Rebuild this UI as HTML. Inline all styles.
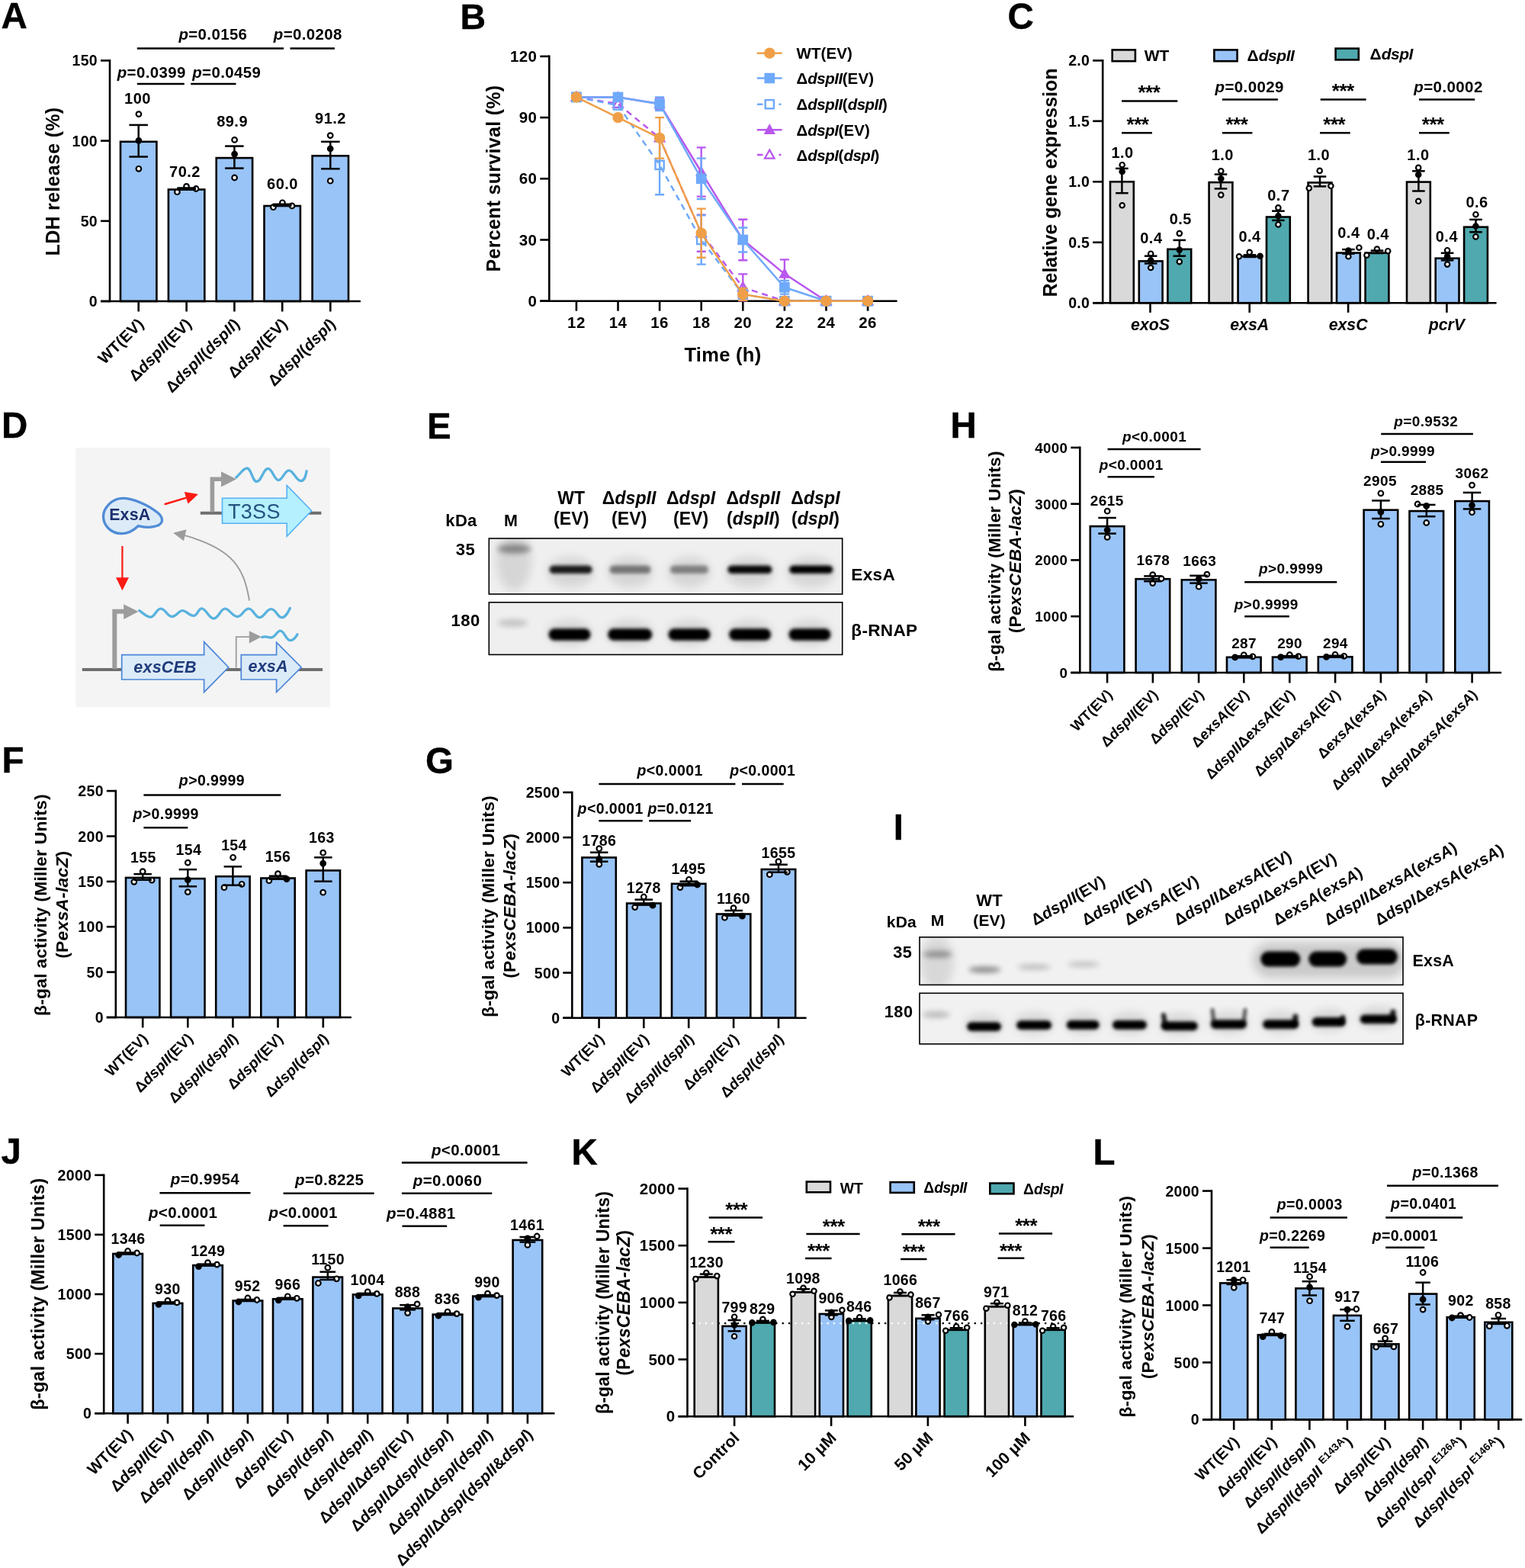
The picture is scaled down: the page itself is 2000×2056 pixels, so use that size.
<!DOCTYPE html>
<html lang="en"><head><meta charset="utf-8"><title>Figure</title>
<style>
html,body{margin:0;padding:0;background:#fff;}
body{width:2000px;height:2056px;overflow:hidden;}
svg{display:block;font-family:"Liberation Sans", Arial, Helvetica, sans-serif;}
#fig{width:2000px;height:2056px;}
svg text{font-family:"Liberation Sans", Arial, Helvetica, sans-serif;}
</style></head><body>
<div id="fig">
<svg width="2000" height="2056" viewBox="0 0 2000 2056">
<defs>
<filter id="cE1b1" filterUnits="userSpaceOnUse" x="621" y="686" width="503" height="113"><feGaussianBlur stdDeviation="1.2"/></filter>
<filter id="cE1b2" filterUnits="userSpaceOnUse" x="621" y="686" width="503" height="113"><feGaussianBlur stdDeviation="2.2"/></filter>
<filter id="cE1b3" filterUnits="userSpaceOnUse" x="621" y="686" width="503" height="113"><feGaussianBlur stdDeviation="3.5"/></filter>
<filter id="cE1b5" filterUnits="userSpaceOnUse" x="621" y="686" width="503" height="113"><feGaussianBlur stdDeviation="6"/></filter>
<clipPath id="cE1"><rect x="641.3" y="706.0" width="463.4" height="73.0"/></clipPath>
<filter id="cE2b1" filterUnits="userSpaceOnUse" x="621" y="770" width="503" height="109"><feGaussianBlur stdDeviation="1.2"/></filter>
<filter id="cE2b2" filterUnits="userSpaceOnUse" x="621" y="770" width="503" height="109"><feGaussianBlur stdDeviation="2.2"/></filter>
<filter id="cE2b3" filterUnits="userSpaceOnUse" x="621" y="770" width="503" height="109"><feGaussianBlur stdDeviation="3.5"/></filter>
<filter id="cE2b5" filterUnits="userSpaceOnUse" x="621" y="770" width="503" height="109"><feGaussianBlur stdDeviation="6"/></filter>
<clipPath id="cE2"><rect x="641.3" y="789.8" width="463.4" height="68.6"/></clipPath>
<filter id="cI1b1" filterUnits="userSpaceOnUse" x="1186" y="1209" width="674" height="103"><feGaussianBlur stdDeviation="1.2"/></filter>
<filter id="cI1b2" filterUnits="userSpaceOnUse" x="1186" y="1209" width="674" height="103"><feGaussianBlur stdDeviation="2.2"/></filter>
<filter id="cI1b3" filterUnits="userSpaceOnUse" x="1186" y="1209" width="674" height="103"><feGaussianBlur stdDeviation="3.5"/></filter>
<filter id="cI1b5" filterUnits="userSpaceOnUse" x="1186" y="1209" width="674" height="103"><feGaussianBlur stdDeviation="6"/></filter>
<clipPath id="cI1"><rect x="1206.0" y="1228.8" width="634.0" height="62.6"/></clipPath>
<filter id="cI2b1" filterUnits="userSpaceOnUse" x="1186" y="1282" width="674" height="107"><feGaussianBlur stdDeviation="1.2"/></filter>
<filter id="cI2b2" filterUnits="userSpaceOnUse" x="1186" y="1282" width="674" height="107"><feGaussianBlur stdDeviation="2.2"/></filter>
<filter id="cI2b3" filterUnits="userSpaceOnUse" x="1186" y="1282" width="674" height="107"><feGaussianBlur stdDeviation="3.5"/></filter>
<filter id="cI2b5" filterUnits="userSpaceOnUse" x="1186" y="1282" width="674" height="107"><feGaussianBlur stdDeviation="6"/></filter>
<clipPath id="cI2"><rect x="1206.0" y="1302.3" width="634.0" height="66.6"/></clipPath>
</defs>
<rect x="0" y="0" width="2000" height="2056" fill="#fff"/>
<text x="1.5" y="37.1" font-size="47.5" text-anchor="start" font-weight="bold" fill="#000" stroke="#000" stroke-width="0.4" stroke-linejoin="round">A</text>
<rect x="158.0" y="185.8" width="47.4" height="209.2" fill="#99c4f7" stroke="#000" stroke-width="2.6" />
<rect x="220.9" y="248.5" width="47.4" height="146.5" fill="#99c4f7" stroke="#000" stroke-width="2.6" />
<rect x="283.7" y="207.1" width="47.4" height="187.9" fill="#99c4f7" stroke="#000" stroke-width="2.6" />
<rect x="346.5" y="270.0" width="47.4" height="125.0" fill="#99c4f7" stroke="#000" stroke-width="2.6" />
<rect x="409.6" y="204.3" width="47.4" height="190.7" fill="#99c4f7" stroke="#000" stroke-width="2.6" />
<circle cx="181.9" cy="149.6" r="3.3" fill="#fff" stroke="#000" stroke-width="2.2"/>
<circle cx="181.9" cy="221.3" r="3.3" fill="#fff" stroke="#000" stroke-width="2.2"/>
<circle cx="232.4" cy="251.7" r="3.3" fill="#fff" stroke="#000" stroke-width="2.2"/>
<circle cx="244.5" cy="244.4" r="3.3" fill="#fff" stroke="#000" stroke-width="2.2"/>
<circle cx="257.1" cy="247.5" r="3.3" fill="#fff" stroke="#000" stroke-width="2.2"/>
<circle cx="307.6" cy="183.4" r="3.3" fill="#fff" stroke="#000" stroke-width="2.2"/>
<circle cx="307.6" cy="233.0" r="3.3" fill="#fff" stroke="#000" stroke-width="2.2"/>
<circle cx="358.4" cy="271.7" r="3.3" fill="#fff" stroke="#000" stroke-width="2.2"/>
<circle cx="370.4" cy="265.8" r="3.3" fill="#fff" stroke="#000" stroke-width="2.2"/>
<circle cx="383.0" cy="270.0" r="3.3" fill="#fff" stroke="#000" stroke-width="2.2"/>
<circle cx="433.2" cy="177.6" r="3.3" fill="#fff" stroke="#000" stroke-width="2.2"/>
<circle cx="433.2" cy="237.2" r="3.3" fill="#fff" stroke="#000" stroke-width="2.2"/>
<circle cx="181.9" cy="184.3" r="3.3" fill="#000" stroke="#000" stroke-width="2.2"/>
<circle cx="307.6" cy="202.1" r="3.3" fill="#000" stroke="#000" stroke-width="2.2"/>
<circle cx="433.2" cy="195.0" r="3.3" fill="#000" stroke="#000" stroke-width="2.2"/>
<path d="M181.7 163.9L181.7 205.5" stroke="#000" stroke-width="2.5" />
<path d="M169.4 163.9L193.9 163.9" stroke="#000" stroke-width="2.5" />
<path d="M169.4 205.5L193.9 205.5" stroke="#000" stroke-width="2.5" />
<path d="M244.6 246.5L244.6 248.5" stroke="#000" stroke-width="2.5" />
<path d="M232.3 246.5L256.9 246.5" stroke="#000" stroke-width="2.5" />
<path d="M232.3 248.5L256.9 248.5" stroke="#000" stroke-width="2.5" />
<path d="M307.4 191.6L307.4 220.6" stroke="#000" stroke-width="2.5" />
<path d="M295.1 191.6L319.6 191.6" stroke="#000" stroke-width="2.5" />
<path d="M295.1 220.6L319.6 220.6" stroke="#000" stroke-width="2.5" />
<path d="M370.2 267.8L370.2 269.8" stroke="#000" stroke-width="2.5" />
<path d="M357.9 267.8L382.4 267.8" stroke="#000" stroke-width="2.5" />
<path d="M357.9 269.8L382.4 269.8" stroke="#000" stroke-width="2.5" />
<path d="M433.3 185.8L433.3 221.3" stroke="#000" stroke-width="2.5" />
<path d="M421.1 185.8L445.6 185.8" stroke="#000" stroke-width="2.5" />
<path d="M421.1 221.3L445.6 221.3" stroke="#000" stroke-width="2.5" />
<path d="M144.0 78.1L144.0 396.3" stroke="#000" stroke-width="2.6" />
<path d="M132.0 395.0L472.9 395.0" stroke="#000" stroke-width="2.6" />
<path d="M132.0 395.0L144.0 395.0" stroke="#000" stroke-width="2.6" />
<text x="128.0" y="402.0" font-size="19.5" text-anchor="end" font-weight="bold" fill="#000" letter-spacing="0.3" >0</text>
<path d="M132.0 289.8L144.0 289.8" stroke="#000" stroke-width="2.6" />
<text x="128.0" y="296.8" font-size="19.5" text-anchor="end" font-weight="bold" fill="#000" letter-spacing="0.3" >50</text>
<path d="M132.0 184.6L144.0 184.6" stroke="#000" stroke-width="2.6" />
<text x="128.0" y="191.6" font-size="19.5" text-anchor="end" font-weight="bold" fill="#000" letter-spacing="0.3" >100</text>
<path d="M132.0 79.4L144.0 79.4" stroke="#000" stroke-width="2.6" />
<text x="128.0" y="86.4" font-size="19.5" text-anchor="end" font-weight="bold" fill="#000" letter-spacing="0.3" >150</text>
<path d="M181.7 395.0L181.7 408.5" stroke="#000" stroke-width="2.6" />
<path d="M244.6 395.0L244.6 408.5" stroke="#000" stroke-width="2.6" />
<path d="M307.4 395.0L307.4 408.5" stroke="#000" stroke-width="2.6" />
<path d="M370.2 395.0L370.2 408.5" stroke="#000" stroke-width="2.6" />
<path d="M433.3 395.0L433.3 408.5" stroke="#000" stroke-width="2.6" />
<text x="180.5" y="136.2" font-size="20" text-anchor="middle" font-weight="bold" fill="#000" letter-spacing="0.5" >100</text>
<text x="242.5" y="231.5" font-size="20" text-anchor="middle" font-weight="bold" fill="#000" letter-spacing="0.5" >70.2</text>
<text x="304.6" y="165.5" font-size="20" text-anchor="middle" font-weight="bold" fill="#000" letter-spacing="0.5" >89.9</text>
<text x="370.5" y="248.0" font-size="20" text-anchor="middle" font-weight="bold" fill="#000" letter-spacing="0.5" >60.0</text>
<text x="433.5" y="161.5" font-size="20" text-anchor="middle" font-weight="bold" fill="#000" letter-spacing="0.5" >91.2</text>
<path d="M179.8 63.5L372.0 63.5" stroke="#000" stroke-width="2.5" />
<text x="279.4" y="52.0" font-size="20.4" text-anchor="middle" font-weight="bold" fill="#000" letter-spacing="0.4" ><tspan font-style="italic">p</tspan>=0.0156</text>
<path d="M380.5 63.5L438.9 63.5" stroke="#000" stroke-width="2.5" />
<text x="403.8" y="52.0" font-size="20.4" text-anchor="middle" font-weight="bold" fill="#000" letter-spacing="0.4" ><tspan font-style="italic">p</tspan>=0.0208</text>
<path d="M179.8 110.1L241.8 110.1" stroke="#000" stroke-width="2.5" />
<text x="198.7" y="101.5" font-size="20.4" text-anchor="middle" font-weight="bold" fill="#000" letter-spacing="0.4" ><tspan font-style="italic">p</tspan>=0.0399</text>
<path d="M250.2 110.1L309.5 110.1" stroke="#000" stroke-width="2.5" />
<text x="297.2" y="101.5" font-size="20.4" text-anchor="middle" font-weight="bold" fill="#000" letter-spacing="0.4" ><tspan font-style="italic">p</tspan>=0.0459</text>
<text x="189.7" y="426.0" font-size="20.6" text-anchor="end" font-weight="bold" fill="#000" transform="rotate(-45 189.7 426.0)" letter-spacing="0.2" >WT(EV)</text>
<text x="252.6" y="426.0" font-size="20.6" text-anchor="end" font-weight="bold" fill="#000" transform="rotate(-45 252.6 426.0)" letter-spacing="0.2" >Δ<tspan font-style="italic">dspII</tspan>(EV)</text>
<text x="315.4" y="426.0" font-size="20.6" text-anchor="end" font-weight="bold" fill="#000" transform="rotate(-45 315.4 426.0)" letter-spacing="0.2" >Δ<tspan font-style="italic">dspII</tspan>(<tspan font-style="italic">dspII</tspan>)</text>
<text x="378.2" y="426.0" font-size="20.6" text-anchor="end" font-weight="bold" fill="#000" transform="rotate(-45 378.2 426.0)" letter-spacing="0.2" >Δ<tspan font-style="italic">dspI</tspan>(EV)</text>
<text x="441.3" y="426.0" font-size="20.6" text-anchor="end" font-weight="bold" fill="#000" transform="rotate(-45 441.3 426.0)" letter-spacing="0.2" >Δ<tspan font-style="italic">dspI</tspan>(<tspan font-style="italic">dspI</tspan>)</text>
<text x="78.3" y="238.0" font-size="25" text-anchor="middle" font-weight="bold" fill="#000" transform="rotate(-90 78.3 238.0)" letter-spacing="0.3" >LDH release (%)</text>
<text x="603.5" y="37.6" font-size="46.5" text-anchor="start" font-weight="bold" fill="#000" stroke="#000" stroke-width="0.4" stroke-linejoin="round">B</text>
<path d="M720.3 72.6L720.3 396.0" stroke="#000" stroke-width="2.6" />
<path d="M708.3 394.7L1176.6 394.7" stroke="#000" stroke-width="2.6" />
<path d="M708.3 394.7L720.3 394.7" stroke="#000" stroke-width="2.6" />
<text x="704.3" y="401.7" font-size="20.5" text-anchor="end" font-weight="bold" fill="#000" letter-spacing="0.4" >0</text>
<path d="M708.3 314.5L720.3 314.5" stroke="#000" stroke-width="2.6" />
<text x="704.3" y="321.5" font-size="20.5" text-anchor="end" font-weight="bold" fill="#000" letter-spacing="0.4" >30</text>
<path d="M708.3 234.3L720.3 234.3" stroke="#000" stroke-width="2.6" />
<text x="704.3" y="241.3" font-size="20.5" text-anchor="end" font-weight="bold" fill="#000" letter-spacing="0.4" >60</text>
<path d="M708.3 154.1L720.3 154.1" stroke="#000" stroke-width="2.6" />
<text x="704.3" y="161.1" font-size="20.5" text-anchor="end" font-weight="bold" fill="#000" letter-spacing="0.4" >90</text>
<path d="M708.3 73.9L720.3 73.9" stroke="#000" stroke-width="2.6" />
<text x="704.3" y="80.9" font-size="20.5" text-anchor="end" font-weight="bold" fill="#000" letter-spacing="0.4" >120</text>
<path d="M755.9 394.7L755.9 407.7" stroke="#000" stroke-width="2.6" />
<text x="755.9" y="429.5" font-size="20.5" text-anchor="middle" font-weight="bold" fill="#000" letter-spacing="0.4" >12</text>
<path d="M810.5 394.7L810.5 407.7" stroke="#000" stroke-width="2.6" />
<text x="810.5" y="429.5" font-size="20.5" text-anchor="middle" font-weight="bold" fill="#000" letter-spacing="0.4" >14</text>
<path d="M865.1 394.7L865.1 407.7" stroke="#000" stroke-width="2.6" />
<text x="865.1" y="429.5" font-size="20.5" text-anchor="middle" font-weight="bold" fill="#000" letter-spacing="0.4" >16</text>
<path d="M919.7 394.7L919.7 407.7" stroke="#000" stroke-width="2.6" />
<text x="919.7" y="429.5" font-size="20.5" text-anchor="middle" font-weight="bold" fill="#000" letter-spacing="0.4" >18</text>
<path d="M974.3 394.7L974.3 407.7" stroke="#000" stroke-width="2.6" />
<text x="974.3" y="429.5" font-size="20.5" text-anchor="middle" font-weight="bold" fill="#000" letter-spacing="0.4" >20</text>
<path d="M1028.9 394.7L1028.9 407.7" stroke="#000" stroke-width="2.6" />
<text x="1028.9" y="429.5" font-size="20.5" text-anchor="middle" font-weight="bold" fill="#000" letter-spacing="0.4" >22</text>
<path d="M1083.5 394.7L1083.5 407.7" stroke="#000" stroke-width="2.6" />
<text x="1083.5" y="429.5" font-size="20.5" text-anchor="middle" font-weight="bold" fill="#000" letter-spacing="0.4" >24</text>
<path d="M1138.1 394.7L1138.1 407.7" stroke="#000" stroke-width="2.6" />
<text x="1138.1" y="429.5" font-size="20.5" text-anchor="middle" font-weight="bold" fill="#000" letter-spacing="0.4" >26</text>
<polyline points="755.9,127.4 810.5,136.2 865.1,180.9 919.7,305.7 974.3,376.8 1028.9,394.7 1083.5,394.7 1138.1,394.7" fill="none" stroke="#b957ee" stroke-width="2.5" stroke-dasharray="8 6"/>
<path d="M919.7 281.6V329.7M913.7 281.6h12M913.7 329.7h12" stroke="#b957ee" stroke-width="2.4" fill="none"/>
<path d="M974.3 359.4V394.2M968.3 359.4h12M968.3 394.2h12" stroke="#b957ee" stroke-width="2.4" fill="none"/>
<path d="M755.9 120.9L762.2 132.0L749.6 132.0Z" fill="none" stroke="#b957ee" stroke-width="2.2"/>
<path d="M810.5 129.7L816.8 140.8L804.2 140.8Z" fill="none" stroke="#b957ee" stroke-width="2.2"/>
<path d="M865.1 174.4L871.4 185.5L858.8 185.5Z" fill="none" stroke="#b957ee" stroke-width="2.2"/>
<path d="M919.7 299.2L926.0 310.3L913.4 310.3Z" fill="none" stroke="#b957ee" stroke-width="2.2"/>
<path d="M974.3 370.3L980.6 381.4L968.0 381.4Z" fill="none" stroke="#b957ee" stroke-width="2.2"/>
<path d="M1028.9 388.2L1035.2 399.3L1022.6 399.3Z" fill="none" stroke="#b957ee" stroke-width="2.2"/>
<path d="M1083.5 388.2L1089.8 399.3L1077.2 399.3Z" fill="none" stroke="#b957ee" stroke-width="2.2"/>
<path d="M1138.1 388.2L1144.4 399.3L1131.8 399.3Z" fill="none" stroke="#b957ee" stroke-width="2.2"/>
<polyline points="755.9,127.4 810.5,127.4 865.1,136.2 919.7,225.5 974.3,314.5 1028.9,359.1 1083.5,394.7 1138.1,394.7" fill="none" stroke="#b957ee" stroke-width="2.5"/>
<path d="M865.1 128.2V144.2M859.1 128.2h12M859.1 144.2h12" stroke="#b957ee" stroke-width="2.4" fill="none"/>
<path d="M919.7 193.4V257.6M913.7 193.4h12M913.7 257.6h12" stroke="#b957ee" stroke-width="2.4" fill="none"/>
<path d="M974.3 287.8V341.2M968.3 287.8h12M968.3 341.2h12" stroke="#b957ee" stroke-width="2.4" fill="none"/>
<path d="M1028.9 340.4V377.9M1022.9 340.4h12M1022.9 377.9h12" stroke="#b957ee" stroke-width="2.4" fill="none"/>
<path d="M755.9 119.2L763.5 133.0L748.3 133.0Z" fill="#b957ee"/>
<path d="M810.5 119.2L818.1 133.0L802.9 133.0Z" fill="#b957ee"/>
<path d="M865.1 128.0L872.7 141.8L857.5 141.8Z" fill="#b957ee"/>
<path d="M919.7 217.3L927.3 231.1L912.1 231.1Z" fill="#b957ee"/>
<path d="M974.3 306.3L981.9 320.1L966.7 320.1Z" fill="#b957ee"/>
<path d="M1028.9 350.9L1036.5 364.7L1021.3 364.7Z" fill="#b957ee"/>
<path d="M1083.5 386.5L1091.1 400.3L1075.9 400.3Z" fill="#b957ee"/>
<path d="M1138.1 386.5L1145.7 400.3L1130.5 400.3Z" fill="#b957ee"/>
<polyline points="755.9,127.4 810.5,138.1 865.1,216.4 919.7,314.5 974.3,385.9 1028.9,394.7 1083.5,394.7 1138.1,394.7" fill="none" stroke="#6ea9fa" stroke-width="2.5" stroke-dasharray="8 6"/>
<path d="M865.1 177.7V255.2M859.1 177.7h12M859.1 255.2h12" stroke="#6ea9fa" stroke-width="2.4" fill="none"/>
<path d="M919.7 282.4V346.6M913.7 282.4h12M913.7 346.6h12" stroke="#6ea9fa" stroke-width="2.4" fill="none"/>
<path d="M974.3 377.9V393.9M968.3 377.9h12M968.3 393.9h12" stroke="#6ea9fa" stroke-width="2.4" fill="none"/>
<rect x="750.3" y="121.8" width="11.2" height="11.2" fill="none" stroke="#6ea9fa" stroke-width="2.4"/>
<rect x="804.9" y="132.5" width="11.2" height="11.2" fill="none" stroke="#6ea9fa" stroke-width="2.4"/>
<rect x="859.5" y="210.8" width="11.2" height="11.2" fill="none" stroke="#6ea9fa" stroke-width="2.4"/>
<rect x="914.1" y="308.9" width="11.2" height="11.2" fill="none" stroke="#6ea9fa" stroke-width="2.4"/>
<rect x="968.7" y="380.3" width="11.2" height="11.2" fill="none" stroke="#6ea9fa" stroke-width="2.4"/>
<rect x="1023.3" y="389.1" width="11.2" height="11.2" fill="none" stroke="#6ea9fa" stroke-width="2.4"/>
<rect x="1077.9" y="389.1" width="11.2" height="11.2" fill="none" stroke="#6ea9fa" stroke-width="2.4"/>
<rect x="1132.5" y="389.1" width="11.2" height="11.2" fill="none" stroke="#6ea9fa" stroke-width="2.4"/>
<polyline points="755.9,127.4 810.5,127.4 865.1,136.2 919.7,234.3 974.3,314.5 1028.9,376.8 1083.5,394.7 1138.1,394.7" fill="none" stroke="#6ea9fa" stroke-width="2.5"/>
<path d="M865.1 127.4V145.0M859.1 127.4h12M859.1 145.0h12" stroke="#6ea9fa" stroke-width="2.4" fill="none"/>
<path d="M919.7 207.6V261.0M913.7 207.6h12M913.7 261.0h12" stroke="#6ea9fa" stroke-width="2.4" fill="none"/>
<path d="M974.3 298.5V330.5M968.3 298.5h12M968.3 330.5h12" stroke="#6ea9fa" stroke-width="2.4" fill="none"/>
<path d="M1028.9 368.0V385.6M1022.9 368.0h12M1022.9 385.6h12" stroke="#6ea9fa" stroke-width="2.4" fill="none"/>
<rect x="749.1" y="120.6" width="13.6" height="13.6" fill="#6ea9fa"/>
<rect x="803.7" y="120.6" width="13.6" height="13.6" fill="#6ea9fa"/>
<rect x="858.3" y="129.4" width="13.6" height="13.6" fill="#6ea9fa"/>
<rect x="912.9" y="227.5" width="13.6" height="13.6" fill="#6ea9fa"/>
<rect x="967.5" y="307.7" width="13.6" height="13.6" fill="#6ea9fa"/>
<rect x="1022.1" y="370.0" width="13.6" height="13.6" fill="#6ea9fa"/>
<rect x="1076.7" y="387.9" width="13.6" height="13.6" fill="#6ea9fa"/>
<rect x="1131.3" y="387.9" width="13.6" height="13.6" fill="#6ea9fa"/>
<polyline points="755.9,127.4 810.5,154.1 865.1,180.9 919.7,305.7 974.3,385.9 1028.9,394.7 1083.5,394.7 1138.1,394.7" fill="none" stroke="#ef9f47" stroke-width="2.5"/>
<path d="M865.1 154.1V207.6M859.1 154.1h12M859.1 207.6h12" stroke="#ef9f47" stroke-width="2.4" fill="none"/>
<path d="M919.7 273.6V337.8M913.7 273.6h12M913.7 337.8h12" stroke="#ef9f47" stroke-width="2.4" fill="none"/>
<path d="M974.3 377.9V393.9M968.3 377.9h12M968.3 393.9h12" stroke="#ef9f47" stroke-width="2.4" fill="none"/>
<circle cx="755.9" cy="127.4" r="7.2" fill="#ef9f47"/>
<circle cx="810.5" cy="154.1" r="7.2" fill="#ef9f47"/>
<circle cx="865.1" cy="180.9" r="7.2" fill="#ef9f47"/>
<circle cx="919.7" cy="305.7" r="7.2" fill="#ef9f47"/>
<circle cx="974.3" cy="385.9" r="7.2" fill="#ef9f47"/>
<circle cx="1028.9" cy="394.7" r="7.2" fill="#ef9f47"/>
<circle cx="1083.5" cy="394.7" r="7.2" fill="#ef9f47"/>
<circle cx="1138.1" cy="394.7" r="7.2" fill="#ef9f47"/>
<path d="M992.8 69.7H1025.6" stroke="#ef9f47" stroke-width="2.5"/>
<circle cx="1009.3" cy="69.7" r="7.2" fill="#ef9f47"/>
<text x="1044.5" y="77.2" font-size="20.5" text-anchor="start" font-weight="bold" fill="#000" letter-spacing="0.1" >WT(EV)</text>
<path d="M992.8 102.5H1025.6" stroke="#6ea9fa" stroke-width="2.5"/>
<rect x="1002.5" y="95.7" width="13.6" height="13.6" fill="#6ea9fa"/>
<text x="1044.5" y="110.0" font-size="20.5" text-anchor="start" font-weight="bold" fill="#000" letter-spacing="0.1" >Δ<tspan font-style="italic" letter-spacing="-0.5">dspII</tspan>(EV)</text>
<path d="M993 136.7H1000.5M1021.5 136.7H1024.5" stroke="#6ea9fa" stroke-width="2.5"/>
<rect x="1003.7" y="131.1" width="11.2" height="11.2" fill="none" stroke="#6ea9fa" stroke-width="2.4"/>
<text x="1044.5" y="144.2" font-size="20.5" text-anchor="start" font-weight="bold" fill="#000" letter-spacing="0.1" >Δ<tspan font-style="italic" letter-spacing="-0.5">dspII</tspan>(<tspan font-style="italic" letter-spacing="-0.5">dspII</tspan>)</text>
<path d="M992.8 170.3H1025.6" stroke="#b957ee" stroke-width="2.5"/>
<path d="M1009.3 162.1L1016.9 175.9L1001.7 175.9Z" fill="#b957ee"/>
<text x="1044.5" y="177.8" font-size="20.5" text-anchor="start" font-weight="bold" fill="#000" letter-spacing="0.1" >Δ<tspan font-style="italic" letter-spacing="-0.5">dspI</tspan>(EV)</text>
<path d="M993 203.1H1000.5M1021.5 203.1H1024.5" stroke="#b957ee" stroke-width="2.5"/>
<path d="M1009.3 196.6L1015.6 207.7L1003.0 207.7Z" fill="none" stroke="#b957ee" stroke-width="2.2"/>
<text x="1044.5" y="210.6" font-size="20.5" text-anchor="start" font-weight="bold" fill="#000" letter-spacing="0.1" >Δ<tspan font-style="italic" letter-spacing="-0.5">dspI</tspan>(<tspan font-style="italic" letter-spacing="-0.5">dspI</tspan>)</text>
<text x="948.0" y="474.0" font-size="25.5" text-anchor="middle" font-weight="bold" fill="#000" letter-spacing="0.3" >Time (h)</text>
<text x="655.5" y="234.0" font-size="25" text-anchor="middle" font-weight="bold" fill="#000" transform="rotate(-90 655.5 234.0)" letter-spacing="0.3" >Percent survival (%)</text>
<text x="1321.5" y="37.6" font-size="47.5" text-anchor="start" font-weight="bold" fill="#000" stroke="#000" stroke-width="0.4" stroke-linejoin="round">C</text>
<rect x="1456.0" y="238.3" width="30.8" height="158.9" fill="#d9d9d9" stroke="#000" stroke-width="2.6" />
<rect x="1493.8" y="342.4" width="30.8" height="54.8" fill="#99c4f7" stroke="#000" stroke-width="2.6" />
<rect x="1531.4" y="326.8" width="30.8" height="70.4" fill="#4fa9ae" stroke="#000" stroke-width="2.6" />
<rect x="1585.6" y="239.1" width="30.8" height="158.1" fill="#d9d9d9" stroke="#000" stroke-width="2.6" />
<rect x="1623.6" y="336.2" width="30.8" height="61.0" fill="#99c4f7" stroke="#000" stroke-width="2.6" />
<rect x="1661.0" y="284.5" width="30.8" height="112.7" fill="#4fa9ae" stroke="#000" stroke-width="2.6" />
<rect x="1715.6" y="239.4" width="30.8" height="157.8" fill="#d9d9d9" stroke="#000" stroke-width="2.6" />
<rect x="1753.0" y="331.6" width="30.8" height="65.6" fill="#99c4f7" stroke="#000" stroke-width="2.6" />
<rect x="1790.6" y="331.6" width="30.8" height="65.6" fill="#4fa9ae" stroke="#000" stroke-width="2.6" />
<rect x="1845.0" y="238.6" width="30.8" height="158.6" fill="#d9d9d9" stroke="#000" stroke-width="2.6" />
<rect x="1882.7" y="338.7" width="30.8" height="58.5" fill="#99c4f7" stroke="#000" stroke-width="2.6" />
<rect x="1920.1" y="297.7" width="30.8" height="99.5" fill="#4fa9ae" stroke="#000" stroke-width="2.6" />
<circle cx="1471.7" cy="216.2" r="3.2" fill="#fff" stroke="#000" stroke-width="2.2"/>
<circle cx="1471.7" cy="269.3" r="3.2" fill="#fff" stroke="#000" stroke-width="2.2"/>
<circle cx="1509.2" cy="332.7" r="3.2" fill="#fff" stroke="#000" stroke-width="2.2"/>
<circle cx="1509.2" cy="351.0" r="3.2" fill="#fff" stroke="#000" stroke-width="2.2"/>
<circle cx="1546.8" cy="306.1" r="3.2" fill="#fff" stroke="#000" stroke-width="2.2"/>
<circle cx="1546.8" cy="343.1" r="3.2" fill="#fff" stroke="#000" stroke-width="2.2"/>
<circle cx="1601.3" cy="224.3" r="3.2" fill="#fff" stroke="#000" stroke-width="2.2"/>
<circle cx="1601.3" cy="255.6" r="3.2" fill="#fff" stroke="#000" stroke-width="2.2"/>
<circle cx="1625.0" cy="336.3" r="3.2" fill="#fff" stroke="#000" stroke-width="2.2"/>
<circle cx="1638.7" cy="330.8" r="3.2" fill="#fff" stroke="#000" stroke-width="2.2"/>
<circle cx="1676.4" cy="272.4" r="3.2" fill="#fff" stroke="#000" stroke-width="2.2"/>
<circle cx="1676.4" cy="294.4" r="3.2" fill="#fff" stroke="#000" stroke-width="2.2"/>
<circle cx="1730.7" cy="223.9" r="3.2" fill="#fff" stroke="#000" stroke-width="2.2"/>
<circle cx="1716.8" cy="246.8" r="3.2" fill="#fff" stroke="#000" stroke-width="2.2"/>
<circle cx="1745.4" cy="243.8" r="3.2" fill="#fff" stroke="#000" stroke-width="2.2"/>
<circle cx="1768.4" cy="336.3" r="3.2" fill="#fff" stroke="#000" stroke-width="2.2"/>
<circle cx="1782.4" cy="324.7" r="3.2" fill="#fff" stroke="#000" stroke-width="2.2"/>
<circle cx="1792.4" cy="334.7" r="3.2" fill="#fff" stroke="#000" stroke-width="2.2"/>
<circle cx="1805.9" cy="326.5" r="3.2" fill="#fff" stroke="#000" stroke-width="2.2"/>
<circle cx="1820.2" cy="329.2" r="3.2" fill="#fff" stroke="#000" stroke-width="2.2"/>
<circle cx="1860.2" cy="219.9" r="3.2" fill="#fff" stroke="#000" stroke-width="2.2"/>
<circle cx="1860.2" cy="263.8" r="3.2" fill="#fff" stroke="#000" stroke-width="2.2"/>
<circle cx="1898.1" cy="328.2" r="3.2" fill="#fff" stroke="#000" stroke-width="2.2"/>
<circle cx="1898.1" cy="346.6" r="3.2" fill="#fff" stroke="#000" stroke-width="2.2"/>
<circle cx="1935.4" cy="281.2" r="3.2" fill="#fff" stroke="#000" stroke-width="2.2"/>
<circle cx="1935.4" cy="310.4" r="3.2" fill="#fff" stroke="#000" stroke-width="2.2"/>
<circle cx="1471.7" cy="225.0" r="3.2" fill="#000" stroke="#000" stroke-width="2.2"/>
<circle cx="1509.2" cy="341.4" r="3.2" fill="#000" stroke="#000" stroke-width="2.2"/>
<circle cx="1546.8" cy="327.6" r="3.2" fill="#000" stroke="#000" stroke-width="2.2"/>
<circle cx="1601.3" cy="234.2" r="3.2" fill="#000" stroke="#000" stroke-width="2.2"/>
<circle cx="1652.6" cy="335.7" r="3.2" fill="#000" stroke="#000" stroke-width="2.2"/>
<circle cx="1676.4" cy="283.2" r="3.2" fill="#000" stroke="#000" stroke-width="2.2"/>
<circle cx="1768.4" cy="328.6" r="3.2" fill="#000" stroke="#000" stroke-width="2.2"/>
<circle cx="1860.2" cy="229.0" r="3.2" fill="#000" stroke="#000" stroke-width="2.2"/>
<circle cx="1898.1" cy="336.3" r="3.2" fill="#000" stroke="#000" stroke-width="2.2"/>
<circle cx="1935.4" cy="296.5" r="3.2" fill="#000" stroke="#000" stroke-width="2.2"/>
<path d="M1471.4 220.9L1471.4 253.2" stroke="#000" stroke-width="2.5" />
<path d="M1463.1 220.9L1479.7 220.9" stroke="#000" stroke-width="2.5" />
<path d="M1463.1 253.2L1479.7 253.2" stroke="#000" stroke-width="2.5" />
<path d="M1509.2 335.7L1509.2 345.5" stroke="#000" stroke-width="2.5" />
<path d="M1500.9 335.7L1517.5 335.7" stroke="#000" stroke-width="2.5" />
<path d="M1500.9 345.5L1517.5 345.5" stroke="#000" stroke-width="2.5" />
<path d="M1546.8 314.9L1546.8 335.7" stroke="#000" stroke-width="2.5" />
<path d="M1538.5 314.9L1555.1 314.9" stroke="#000" stroke-width="2.5" />
<path d="M1538.5 335.7L1555.1 335.7" stroke="#000" stroke-width="2.5" />
<path d="M1601.0 228.6L1601.0 247.4" stroke="#000" stroke-width="2.5" />
<path d="M1592.7 228.6L1609.3 228.6" stroke="#000" stroke-width="2.5" />
<path d="M1592.7 247.4L1609.3 247.4" stroke="#000" stroke-width="2.5" />
<path d="M1639.0 334.3L1639.0 337.0" stroke="#000" stroke-width="2.5" />
<path d="M1630.7 334.3L1647.3 334.3" stroke="#000" stroke-width="2.5" />
<path d="M1630.7 337.0L1647.3 337.0" stroke="#000" stroke-width="2.5" />
<path d="M1676.4 276.7L1676.4 288.9" stroke="#000" stroke-width="2.5" />
<path d="M1668.1 276.7L1684.7 276.7" stroke="#000" stroke-width="2.5" />
<path d="M1668.1 288.9L1684.7 288.9" stroke="#000" stroke-width="2.5" />
<path d="M1731.0 231.5L1731.0 244.4" stroke="#000" stroke-width="2.5" />
<path d="M1722.7 231.5L1739.3 231.5" stroke="#000" stroke-width="2.5" />
<path d="M1722.7 244.4L1739.3 244.4" stroke="#000" stroke-width="2.5" />
<path d="M1768.4 327.1L1768.4 332.7" stroke="#000" stroke-width="2.5" />
<path d="M1760.1 327.1L1776.7 327.1" stroke="#000" stroke-width="2.5" />
<path d="M1760.1 332.7L1776.7 332.7" stroke="#000" stroke-width="2.5" />
<path d="M1806.0 328.6L1806.0 332.0" stroke="#000" stroke-width="2.5" />
<path d="M1797.7 328.6L1814.3 328.6" stroke="#000" stroke-width="2.5" />
<path d="M1797.7 332.0L1814.3 332.0" stroke="#000" stroke-width="2.5" />
<path d="M1860.4 224.3L1860.4 250.5" stroke="#000" stroke-width="2.5" />
<path d="M1852.1 224.3L1868.7 224.3" stroke="#000" stroke-width="2.5" />
<path d="M1852.1 250.5L1868.7 250.5" stroke="#000" stroke-width="2.5" />
<path d="M1898.1 331.8L1898.1 341.4" stroke="#000" stroke-width="2.5" />
<path d="M1889.8 331.8L1906.4 331.8" stroke="#000" stroke-width="2.5" />
<path d="M1889.8 341.4L1906.4 341.4" stroke="#000" stroke-width="2.5" />
<path d="M1935.5 287.9L1935.5 304.3" stroke="#000" stroke-width="2.5" />
<path d="M1927.2 287.9L1943.8 287.9" stroke="#000" stroke-width="2.5" />
<path d="M1927.2 304.3L1943.8 304.3" stroke="#000" stroke-width="2.5" />
<path d="M1446.2 78.1L1446.2 398.5" stroke="#000" stroke-width="2.6" />
<path d="M1433.2 397.2L1962.6 397.2" stroke="#000" stroke-width="2.6" />
<path d="M1433.2 397.2L1446.2 397.2" stroke="#000" stroke-width="2.6" />
<text x="1429.2" y="404.2" font-size="19.5" text-anchor="end" font-weight="bold" fill="#000" letter-spacing="0.3" >0.0</text>
<path d="M1433.2 317.8L1446.2 317.8" stroke="#000" stroke-width="2.6" />
<text x="1429.2" y="324.8" font-size="19.5" text-anchor="end" font-weight="bold" fill="#000" letter-spacing="0.3" >0.5</text>
<path d="M1433.2 238.3L1446.2 238.3" stroke="#000" stroke-width="2.6" />
<text x="1429.2" y="245.3" font-size="19.5" text-anchor="end" font-weight="bold" fill="#000" letter-spacing="0.3" >1.0</text>
<path d="M1433.2 158.8L1446.2 158.8" stroke="#000" stroke-width="2.6" />
<text x="1429.2" y="165.8" font-size="19.5" text-anchor="end" font-weight="bold" fill="#000" letter-spacing="0.3" >1.5</text>
<path d="M1433.2 79.4L1446.2 79.4" stroke="#000" stroke-width="2.6" />
<text x="1429.2" y="86.4" font-size="19.5" text-anchor="end" font-weight="bold" fill="#000" letter-spacing="0.3" >2.0</text>
<path d="M1508.5 397.2L1508.5 409.9" stroke="#000" stroke-width="2.6" />
<text x="1508.5" y="432.5" font-size="21.3" text-anchor="middle" font-weight="bold" fill="#000" letter-spacing="0.0" ><tspan font-style="italic">exoS</tspan></text>
<path d="M1638.7 397.2L1638.7 409.9" stroke="#000" stroke-width="2.6" />
<text x="1638.7" y="432.5" font-size="21.3" text-anchor="middle" font-weight="bold" fill="#000" letter-spacing="0.0" ><tspan font-style="italic">exsA</tspan></text>
<path d="M1768.1 397.2L1768.1 409.9" stroke="#000" stroke-width="2.6" />
<text x="1768.1" y="432.5" font-size="21.3" text-anchor="middle" font-weight="bold" fill="#000" letter-spacing="0.0" ><tspan font-style="italic">exsC</tspan></text>
<path d="M1897.4 397.2L1897.4 409.9" stroke="#000" stroke-width="2.6" />
<text x="1897.4" y="432.5" font-size="21.3" text-anchor="middle" font-weight="bold" fill="#000" letter-spacing="0.0" ><tspan font-style="italic">pcrV</tspan></text>
<text x="1472.1" y="206.6" font-size="20" text-anchor="middle" font-weight="bold" fill="#000" letter-spacing="0.5" >1.0</text>
<text x="1509.9" y="318.6" font-size="20" text-anchor="middle" font-weight="bold" fill="#000" letter-spacing="0.5" >0.4</text>
<text x="1548.3" y="294.4" font-size="20" text-anchor="middle" font-weight="bold" fill="#000" letter-spacing="0.5" >0.5</text>
<text x="1603.3" y="210.0" font-size="20" text-anchor="middle" font-weight="bold" fill="#000" letter-spacing="0.5" >1.0</text>
<text x="1639.1" y="317.3" font-size="20" text-anchor="middle" font-weight="bold" fill="#000" letter-spacing="0.5" >0.4</text>
<text x="1676.9" y="263.2" font-size="20" text-anchor="middle" font-weight="bold" fill="#000" letter-spacing="0.5" >0.7</text>
<text x="1729.6" y="210.0" font-size="20" text-anchor="middle" font-weight="bold" fill="#000" letter-spacing="0.5" >1.0</text>
<text x="1768.9" y="311.8" font-size="20" text-anchor="middle" font-weight="bold" fill="#000" letter-spacing="0.5" >0.4</text>
<text x="1807.3" y="313.9" font-size="20" text-anchor="middle" font-weight="bold" fill="#000" letter-spacing="0.5" >0.4</text>
<text x="1860.0" y="210.0" font-size="20" text-anchor="middle" font-weight="bold" fill="#000" letter-spacing="0.5" >1.0</text>
<text x="1897.4" y="317.3" font-size="20" text-anchor="middle" font-weight="bold" fill="#000" letter-spacing="0.5" >0.4</text>
<text x="1937.1" y="272.0" font-size="20" text-anchor="middle" font-weight="bold" fill="#000" letter-spacing="0.5" >0.6</text>
<path d="M1471.1 132.6L1544.3 132.6" stroke="#000" stroke-width="2.5" />
<text x="1506.9" y="130.1" font-size="26" text-anchor="middle" font-weight="bold" fill="#000" letter-spacing="-0.5" >***</text>
<path d="M1471.1 174.3L1510.9 174.3" stroke="#000" stroke-width="2.5" />
<text x="1492.0" y="171.8" font-size="26" text-anchor="middle" font-weight="bold" fill="#000" letter-spacing="-0.5" >***</text>
<path d="M1602.9 130.5L1675.9 130.5" stroke="#000" stroke-width="2.5" />
<text x="1638.7" y="120.7" font-size="20.5" text-anchor="middle" font-weight="bold" fill="#000" letter-spacing="0.4" ><tspan font-style="italic">p</tspan>=0.0029</text>
<path d="M1602.9 174.3L1642.4 174.3" stroke="#000" stroke-width="2.5" />
<text x="1621.9" y="171.8" font-size="26" text-anchor="middle" font-weight="bold" fill="#000" letter-spacing="-0.5" >***</text>
<path d="M1731.7 130.5L1791.6 130.5" stroke="#000" stroke-width="2.5" />
<text x="1761.3" y="128.0" font-size="26" text-anchor="middle" font-weight="bold" fill="#000" letter-spacing="-0.5" >***</text>
<path d="M1731.1 174.3L1770.7 174.3" stroke="#000" stroke-width="2.5" />
<text x="1749.7" y="171.8" font-size="26" text-anchor="middle" font-weight="bold" fill="#000" letter-spacing="-0.5" >***</text>
<path d="M1861.0 130.5L1934.2 130.5" stroke="#000" stroke-width="2.5" />
<text x="1899.5" y="120.7" font-size="20.5" text-anchor="middle" font-weight="bold" fill="#000" letter-spacing="0.4" ><tspan font-style="italic">p</tspan>=0.0002</text>
<path d="M1861.0 174.3L1900.7 174.3" stroke="#000" stroke-width="2.5" />
<text x="1879.2" y="171.8" font-size="26" text-anchor="middle" font-weight="bold" fill="#000" letter-spacing="-0.5" >***</text>
<rect x="1458.7" y="65.4" width="30.2" height="14.8" fill="#d9d9d9" stroke="#000" stroke-width="2.6" />
<text x="1500.7" y="79.9" font-size="21" text-anchor="start" font-weight="bold" fill="#000" letter-spacing="0.1" >WT</text>
<rect x="1592.4" y="65.4" width="30.2" height="14.8" fill="#99c4f7" stroke="#000" stroke-width="2.6" />
<text x="1635.6" y="79.9" font-size="21" text-anchor="start" font-weight="bold" fill="#000" letter-spacing="0.1" >Δ<tspan font-style="italic" letter-spacing="-0.5">dspII</tspan></text>
<rect x="1751.6" y="63.6" width="30.2" height="14.8" fill="#4fa9ae" stroke="#000" stroke-width="2.6" />
<text x="1796.5" y="78.1" font-size="21" text-anchor="start" font-weight="bold" fill="#000" letter-spacing="0.1" >Δ<tspan font-style="italic" letter-spacing="-0.5">dspI</tspan></text>
<text x="1386.4" y="239.5" font-size="25" text-anchor="middle" font-weight="bold" fill="#000" transform="rotate(-90 1386.4 239.5)" letter-spacing="0" >Relative gene expression</text>
<text x="2.0" y="574.3" font-size="47.5" text-anchor="start" font-weight="bold" fill="#000" stroke="#000" stroke-width="0.4" stroke-linejoin="round">D</text>
<rect x="99.2" y="587.0" width="333.6" height="340.4" fill="#f4f4f4" stroke="none" stroke-width="0" />
<path d="M 135.5 677.0 C 135.5 667.7 145.2 653.9 160.3 653.4 C 174.6 653.0 195.6 662.7 207.4 672.8 C 211.6 676.6 213.3 681.2 212.0 684.5 C 209.9 690.4 195.6 693.4 181.3 689.6 C 178.0 692.5 172.1 699.7 159.5 699.7 C 145.2 699.7 135.5 688.7 135.5 677.0 Z" fill="#dcebf7" stroke="#508cd7" stroke-width="3.3" stroke-linejoin="round"/>
<text x="170.3" y="681.6" font-size="21.4" text-anchor="middle" font-weight="bold" fill="#1c2f6e" letter-spacing="0.2" >ExsA</text>
<path d="M216.6 661.0L245.2 652.4" stroke="#fb1a14" stroke-width="2.5" stroke-linecap="round"/>
<path d="M 259.9 648.0 L 241.8 645.0 L 246.5 660.6 Z" fill="#fb1a14"/>
<path d="M160.4 716.0L160.4 760.0" stroke="#fb1a14" stroke-width="2.2" />
<path d="M152.0 757.2L169.0 757.2L160.4 774.2Z" fill="#fb1a14"/>
<path d="M262.8 672.8L421.4 672.8" stroke="#6e6e6e" stroke-width="4" />
<path d="M 278.4 671.5 L 278.4 628.2 L 290.7 628.2" fill="none" stroke="#9c9c9c" stroke-width="5.6"/>
<path d="M 290.0 618.2 L 310.0 628.2 L 290.0 638.5 Z" fill="#9c9c9c"/>
<path d="M 309.7 626.0 C 315.2 621.4 318.9 614.0 323.8 614.0 C 329.9 614.0 330.8 631.5 336.7 631.5 C 342.8 631.5 345.5 614.4 351.4 614.4 C 357.5 614.4 359.3 629.6 365.2 629.6 C 370.7 629.6 373.1 616.8 379.0 616.8 C 385.0 616.8 388.2 630.6 394.6 630.6 C 399.7 630.6 401.0 623.2 402.1 617.7" fill="none" stroke="#58b2de" stroke-width="3.3" stroke-linecap="round"/>
<path d="M 291.5 653.2 L 376.2 653.2 L 376.2 636.4 L 408.6 669.7 L 376.2 703.2 L 376.2 686.2 L 291.5 686.2 Z" fill="#b4f0fe" stroke="#56b0f2" stroke-width="1.6"/>
<text x="299.0" y="680.2" font-size="27" text-anchor="start" font-weight="normal" fill="#24527f" letter-spacing="0.3" >T3SS</text>
<path d="M 327.1 787.7 C 319.8 745.4 306.9 719.7 240.7 701.7" fill="none" stroke="#9c9c9c" stroke-width="1.9"/>
<path d="M 227.1 698.8 L 244.4 694.2 L 241.0 709.3 Z" fill="#9c9c9c"/>
<path d="M107.8 878.1L423.1 878.1" stroke="#6e6e6e" stroke-width="4" />
<path d="M 150.3 877.2 L 150.3 801.8 L 163.2 801.8" fill="none" stroke="#9c9c9c" stroke-width="6"/>
<path d="M 162.2 792.3 L 181.5 802.0 L 162.2 812.1 Z" fill="#9c9c9c"/>
<path d="M 182.8 800.6 C 188.3 804.2 192.0 809.2 197.5 809.2 C 203.1 809.2 204.9 798.2 210.8 798.2 C 216.8 798.2 219.6 808.5 225.5 808.5 C 231.5 808.5 234.3 800.6 239.3 800.6 C 244.4 800.6 248.1 807.4 253.6 807.4 C 259.1 807.4 260.0 797.8 264.6 797.8 C 270.1 797.8 273.8 811.0 280.3 811.0 C 286.3 811.0 289.4 798.2 295.0 798.2 C 300.5 798.2 305.1 808.5 311.5 808.5 C 317.6 808.5 319.8 798.2 326.2 798.2 C 332.3 798.2 334.5 809.7 340.4 809.7 C 346.4 809.7 349.2 798.7 355.6 798.7 C 362.1 798.7 363.9 809.7 369.4 809.7 C 374.9 809.7 377.7 802.4 380.4 797.4" fill="none" stroke="#58b2de" stroke-width="3.3" stroke-linecap="round"/>
<path d="M 159.7 858.6 L 267.6 858.6 L 267.6 841.7 L 299.7 875.0 L 267.6 907.7 L 267.6 891.0 L 159.7 891.0 Z" fill="#dcebf8" stroke="#4b86d9" stroke-width="1.7"/>
<text x="216.6" y="882.0" font-size="21.5" text-anchor="middle" font-weight="bold" fill="#1f3b7a" letter-spacing="0.2" ><tspan font-style="italic">exsCEB</tspan></text>
<path d="M 309.7 875.4 L 309.7 835.1 L 327.5 835.1" fill="none" stroke="#9c9c9c" stroke-width="1.8"/>
<path d="M 326.8 827.2 L 342.8 835.1 L 326.8 843.4 Z" fill="#9c9c9c"/>
<path d="M 343.7 835.5 C 349.2 833.6 351.0 836.0 355.6 836.0 C 361.1 836.0 363.0 827.2 367.6 827.2 C 373.1 827.2 374.9 839.7 380.8 839.7 C 385.0 839.7 387.8 835.5 390.0 831.8" fill="none" stroke="#58b2de" stroke-width="3.3" stroke-linecap="round"/>
<path d="M 316.3 858.6 L 362.6 858.6 L 362.6 842.3 L 395.1 875.0 L 362.6 907.5 L 362.6 891.0 L 316.3 891.0 Z" fill="#dcebf8" stroke="#4b86d9" stroke-width="1.7"/>
<text x="351.6" y="881.4" font-size="21.5" text-anchor="middle" font-weight="bold" fill="#1f3b7a" letter-spacing="0.2" ><tspan font-style="italic">exsA</tspan></text>
<text x="560.0" y="574.5" font-size="47.5" text-anchor="start" font-weight="bold" fill="#000" stroke="#000" stroke-width="0.4" stroke-linejoin="round">E</text>
<text x="749.2" y="660.5" font-size="23.0" text-anchor="middle" font-weight="bold" fill="#000" letter-spacing="0.1" >WT</text>
<text x="749.2" y="687.8" font-size="23.0" text-anchor="middle" font-weight="bold" fill="#000" letter-spacing="0.1" >(EV)</text>
<text x="825.2" y="660.5" font-size="23.0" text-anchor="middle" font-weight="bold" fill="#000" letter-spacing="0.1" >Δ<tspan font-style="italic">dspII</tspan></text>
<text x="825.2" y="687.8" font-size="23.0" text-anchor="middle" font-weight="bold" fill="#000" letter-spacing="0.1" >(EV)</text>
<text x="906.1" y="660.5" font-size="23.0" text-anchor="middle" font-weight="bold" fill="#000" letter-spacing="0.1" >Δ<tspan font-style="italic">dspI</tspan></text>
<text x="906.1" y="687.8" font-size="23.0" text-anchor="middle" font-weight="bold" fill="#000" letter-spacing="0.1" >(EV)</text>
<text x="987.8" y="660.5" font-size="23.0" text-anchor="middle" font-weight="bold" fill="#000" letter-spacing="0.1" >Δ<tspan font-style="italic">dspII</tspan></text>
<text x="987.8" y="687.8" font-size="23.0" text-anchor="middle" font-weight="bold" fill="#000" letter-spacing="0.1" >(<tspan font-style="italic">dspII</tspan>)</text>
<text x="1069.5" y="660.5" font-size="23.0" text-anchor="middle" font-weight="bold" fill="#000" letter-spacing="0.1" >Δ<tspan font-style="italic">dspI</tspan></text>
<text x="1069.5" y="687.8" font-size="23.0" text-anchor="middle" font-weight="bold" fill="#000" letter-spacing="0.1" >(<tspan font-style="italic">dspI</tspan>)</text>
<text x="605.0" y="689.6" font-size="22" text-anchor="middle" font-weight="bold" fill="#000" letter-spacing="0.3" >kDa</text>
<text x="669.9" y="689.6" font-size="21.5" text-anchor="middle" font-weight="bold" fill="#000" >M</text>
<text x="623.3" y="728.3" font-size="22" text-anchor="end" font-weight="bold" fill="#000" letter-spacing="0.5" >35</text>
<text x="629.8" y="821.0" font-size="22" text-anchor="end" font-weight="bold" fill="#000" letter-spacing="0.5" >180</text>
<text x="1116.3" y="761.3" font-size="22.6" text-anchor="start" font-weight="bold" fill="#000" letter-spacing="0.3" >ExsA</text>
<text x="1116.3" y="833.9" font-size="22.6" text-anchor="start" font-weight="bold" fill="#000" letter-spacing="0.3" >β-RNAP</text>
<rect x="641.3" y="706.0" width="463.4" height="73.0" fill="#efefef" stroke="none" stroke-width="0" />
<g clip-path="url(#cE1)">
<ellipse cx="674.0" cy="735.0" rx="23.0" ry="40.0" fill="#000" opacity="0.1" filter="url(#cE1b5)" />
<ellipse cx="674.3" cy="719.7" rx="22.0" ry="6.0" fill="#000" opacity="0.38" filter="url(#cE1b3)" />
<ellipse cx="748.6" cy="750.0" rx="31.0" ry="20.0" fill="#000" opacity="0.1" filter="url(#cE1b5)" />
<rect x="720.6" y="741.6" width="56.0" height="10.5" rx="5.2" fill="#000" opacity="0.88" filter="url(#cE1b2)"/>
<ellipse cx="826.5" cy="750.0" rx="30.0" ry="20.0" fill="#000" opacity="0.1" filter="url(#cE1b5)" />
<rect x="799.5" y="741.6" width="54.0" height="10.5" rx="5.2" fill="#000" opacity="0.45" filter="url(#cE1b2)"/>
<ellipse cx="904.0" cy="750.0" rx="28.0" ry="20.0" fill="#000" opacity="0.1" filter="url(#cE1b5)" />
<rect x="879.0" y="741.6" width="50.0" height="10.5" rx="5.2" fill="#000" opacity="0.4" filter="url(#cE1b2)"/>
<ellipse cx="983.4" cy="750.0" rx="32.0" ry="20.0" fill="#000" opacity="0.1" filter="url(#cE1b5)" />
<rect x="954.4" y="741.6" width="58.0" height="10.5" rx="5.2" fill="#000" opacity="0.97" filter="url(#cE1b2)"/>
<ellipse cx="1063.8" cy="750.0" rx="31.5" ry="20.0" fill="#000" opacity="0.1" filter="url(#cE1b5)" />
<rect x="1035.3" y="741.6" width="57.0" height="10.5" rx="5.2" fill="#000" opacity="1.0" filter="url(#cE1b2)"/>
</g>
<rect x="641.3" y="706.0" width="463.4" height="73.0" fill="none" stroke="#000" stroke-width="1.6" />
<rect x="641.3" y="789.8" width="463.4" height="68.6" fill="#efefef" stroke="none" stroke-width="0" />
<g clip-path="url(#cE2)">
<ellipse cx="672.4" cy="817.0" rx="20.0" ry="5.0" fill="#000" opacity="0.18" filter="url(#cE2b3)" />
<ellipse cx="747.0" cy="830.0" rx="29.5" ry="17.0" fill="#000" opacity="0.1" filter="url(#cE2b5)" />
<rect x="719.5" y="824.2" width="55.0" height="15.5" rx="7.8" fill="#000" opacity="1.0" filter="url(#cE2b2)"/>
<ellipse cx="826.2" cy="830.0" rx="31.0" ry="17.0" fill="#000" opacity="0.1" filter="url(#cE2b5)" />
<rect x="797.2" y="824.2" width="58.0" height="15.5" rx="7.8" fill="#000" opacity="1.0" filter="url(#cE2b2)"/>
<ellipse cx="904.0" cy="830.0" rx="29.5" ry="17.0" fill="#000" opacity="0.1" filter="url(#cE2b5)" />
<rect x="876.5" y="824.2" width="55.0" height="15.5" rx="7.8" fill="#000" opacity="1.0" filter="url(#cE2b2)"/>
<ellipse cx="983.6" cy="830.0" rx="29.5" ry="17.0" fill="#000" opacity="0.1" filter="url(#cE2b5)" />
<rect x="956.1" y="824.2" width="55.0" height="15.5" rx="7.8" fill="#000" opacity="1.0" filter="url(#cE2b2)"/>
<ellipse cx="1062.0" cy="830.0" rx="29.5" ry="17.0" fill="#000" opacity="0.1" filter="url(#cE2b5)" />
<rect x="1034.5" y="824.2" width="55.0" height="15.5" rx="7.8" fill="#000" opacity="1.0" filter="url(#cE2b2)"/>
</g>
<rect x="641.3" y="789.8" width="463.4" height="68.6" fill="none" stroke="#000" stroke-width="1.6" />
<text x="1246.5" y="573.5" font-size="47.5" text-anchor="start" font-weight="bold" fill="#000" stroke="#000" stroke-width="0.4" stroke-linejoin="round">H</text>
<rect x="1429.8" y="690.1" width="44.6" height="191.9" fill="#99c4f7" stroke="#000" stroke-width="2.6" />
<rect x="1489.6" y="759.2" width="44.6" height="122.8" fill="#99c4f7" stroke="#000" stroke-width="2.6" />
<rect x="1549.8" y="760.3" width="44.6" height="121.7" fill="#99c4f7" stroke="#000" stroke-width="2.6" />
<rect x="1609.0" y="861.8" width="44.6" height="20.2" fill="#99c4f7" stroke="#000" stroke-width="2.6" />
<rect x="1669.0" y="861.6" width="44.6" height="20.4" fill="#99c4f7" stroke="#000" stroke-width="2.6" />
<rect x="1728.8" y="861.3" width="44.6" height="20.7" fill="#99c4f7" stroke="#000" stroke-width="2.6" />
<rect x="1788.6" y="668.7" width="44.6" height="213.3" fill="#99c4f7" stroke="#000" stroke-width="2.6" />
<rect x="1848.5" y="670.1" width="44.6" height="211.9" fill="#99c4f7" stroke="#000" stroke-width="2.6" />
<rect x="1908.3" y="657.1" width="44.6" height="224.9" fill="#99c4f7" stroke="#000" stroke-width="2.6" />
<circle cx="1452.2" cy="670.2" r="3.3" fill="#fff" stroke="#000" stroke-width="2.2"/>
<circle cx="1452.2" cy="704.4" r="3.3" fill="#fff" stroke="#000" stroke-width="2.2"/>
<circle cx="1511.7" cy="753.6" r="3.3" fill="#fff" stroke="#000" stroke-width="2.2"/>
<circle cx="1523.1" cy="758.7" r="3.3" fill="#fff" stroke="#000" stroke-width="2.2"/>
<circle cx="1511.7" cy="764.6" r="3.3" fill="#fff" stroke="#000" stroke-width="2.2"/>
<circle cx="1582.9" cy="753.2" r="3.3" fill="#fff" stroke="#000" stroke-width="2.2"/>
<circle cx="1572.2" cy="769.2" r="3.3" fill="#fff" stroke="#000" stroke-width="2.2"/>
<circle cx="1631.3" cy="858.8" r="3.3" fill="#fff" stroke="#000" stroke-width="2.2"/>
<circle cx="1642.9" cy="860.8" r="3.3" fill="#fff" stroke="#000" stroke-width="2.2"/>
<circle cx="1691.3" cy="858.6" r="3.3" fill="#fff" stroke="#000" stroke-width="2.2"/>
<circle cx="1702.9" cy="860.6" r="3.3" fill="#fff" stroke="#000" stroke-width="2.2"/>
<circle cx="1751.1" cy="858.3" r="3.3" fill="#fff" stroke="#000" stroke-width="2.2"/>
<circle cx="1762.7" cy="860.3" r="3.3" fill="#fff" stroke="#000" stroke-width="2.2"/>
<circle cx="1810.9" cy="646.8" r="3.3" fill="#fff" stroke="#000" stroke-width="2.2"/>
<circle cx="1810.9" cy="687.3" r="3.3" fill="#fff" stroke="#000" stroke-width="2.2"/>
<circle cx="1859.1" cy="661.0" r="3.3" fill="#fff" stroke="#000" stroke-width="2.2"/>
<circle cx="1870.7" cy="685.5" r="3.3" fill="#fff" stroke="#000" stroke-width="2.2"/>
<circle cx="1930.5" cy="636.2" r="3.3" fill="#fff" stroke="#000" stroke-width="2.2"/>
<circle cx="1930.5" cy="671.7" r="3.3" fill="#fff" stroke="#000" stroke-width="2.2"/>
<circle cx="1452.2" cy="695.0" r="3.3" fill="#000" stroke="#000" stroke-width="2.2"/>
<circle cx="1572.2" cy="759.1" r="3.3" fill="#000" stroke="#000" stroke-width="2.2"/>
<circle cx="1619.7" cy="861.8" r="3.3" fill="#000" stroke="#000" stroke-width="2.2"/>
<circle cx="1679.7" cy="861.6" r="3.3" fill="#000" stroke="#000" stroke-width="2.2"/>
<circle cx="1739.5" cy="861.3" r="3.3" fill="#000" stroke="#000" stroke-width="2.2"/>
<circle cx="1810.9" cy="671.3" r="3.3" fill="#000" stroke="#000" stroke-width="2.2"/>
<circle cx="1870.7" cy="663.4" r="3.3" fill="#000" stroke="#000" stroke-width="2.2"/>
<circle cx="1930.5" cy="662.5" r="3.3" fill="#000" stroke="#000" stroke-width="2.2"/>
<path d="M1452.1 679.0L1452.1 699.6" stroke="#000" stroke-width="2.5" />
<path d="M1440.3 679.0L1463.8 679.0" stroke="#000" stroke-width="2.5" />
<path d="M1440.3 699.6L1463.8 699.6" stroke="#000" stroke-width="2.5" />
<path d="M1511.9 755.4L1511.9 762.2" stroke="#000" stroke-width="2.5" />
<path d="M1500.2 755.4L1523.7 755.4" stroke="#000" stroke-width="2.5" />
<path d="M1500.2 762.2L1523.7 762.2" stroke="#000" stroke-width="2.5" />
<path d="M1572.1 754.8L1572.1 764.6" stroke="#000" stroke-width="2.5" />
<path d="M1560.3 754.8L1583.8 754.8" stroke="#000" stroke-width="2.5" />
<path d="M1560.3 764.6L1583.8 764.6" stroke="#000" stroke-width="2.5" />
<path d="M1631.3 860.3L1631.3 862.3" stroke="#000" stroke-width="2.5" />
<path d="M1619.5 860.3L1643.0 860.3" stroke="#000" stroke-width="2.5" />
<path d="M1619.5 862.3L1643.0 862.3" stroke="#000" stroke-width="2.5" />
<path d="M1691.3 860.1L1691.3 862.1" stroke="#000" stroke-width="2.5" />
<path d="M1679.5 860.1L1703.0 860.1" stroke="#000" stroke-width="2.5" />
<path d="M1679.5 862.1L1703.0 862.1" stroke="#000" stroke-width="2.5" />
<path d="M1751.1 859.8L1751.1 861.8" stroke="#000" stroke-width="2.5" />
<path d="M1739.3 859.8L1762.8 859.8" stroke="#000" stroke-width="2.5" />
<path d="M1739.3 861.8L1762.8 861.8" stroke="#000" stroke-width="2.5" />
<path d="M1810.9 656.4L1810.9 680.0" stroke="#000" stroke-width="2.5" />
<path d="M1799.2 656.4L1822.7 656.4" stroke="#000" stroke-width="2.5" />
<path d="M1799.2 680.0L1822.7 680.0" stroke="#000" stroke-width="2.5" />
<path d="M1870.8 661.9L1870.8 677.2" stroke="#000" stroke-width="2.5" />
<path d="M1859.0 661.9L1882.5 661.9" stroke="#000" stroke-width="2.5" />
<path d="M1859.0 677.2L1882.5 677.2" stroke="#000" stroke-width="2.5" />
<path d="M1930.6 645.9L1930.6 667.4" stroke="#000" stroke-width="2.5" />
<path d="M1918.8 645.9L1942.3 645.9" stroke="#000" stroke-width="2.5" />
<path d="M1918.8 667.4L1942.3 667.4" stroke="#000" stroke-width="2.5" />
<path d="M1416.3 585.6L1416.3 883.3" stroke="#000" stroke-width="2.6" />
<path d="M1404.3 882.0L1969.1 882.0" stroke="#000" stroke-width="2.6" />
<path d="M1404.3 882.0L1416.3 882.0" stroke="#000" stroke-width="2.6" />
<text x="1400.3" y="889.0" font-size="18.8" text-anchor="end" font-weight="bold" fill="#000" letter-spacing="0.3" >0</text>
<path d="M1404.3 808.2L1416.3 808.2" stroke="#000" stroke-width="2.6" />
<text x="1400.3" y="815.2" font-size="18.8" text-anchor="end" font-weight="bold" fill="#000" letter-spacing="0.3" >1000</text>
<path d="M1404.3 734.4L1416.3 734.4" stroke="#000" stroke-width="2.6" />
<text x="1400.3" y="741.4" font-size="18.8" text-anchor="end" font-weight="bold" fill="#000" letter-spacing="0.3" >2000</text>
<path d="M1404.3 660.7L1416.3 660.7" stroke="#000" stroke-width="2.6" />
<text x="1400.3" y="667.7" font-size="18.8" text-anchor="end" font-weight="bold" fill="#000" letter-spacing="0.3" >3000</text>
<path d="M1404.3 586.9L1416.3 586.9" stroke="#000" stroke-width="2.6" />
<text x="1400.3" y="593.9" font-size="18.8" text-anchor="end" font-weight="bold" fill="#000" letter-spacing="0.3" >4000</text>
<path d="M1452.1 882.0L1452.1 895.5" stroke="#000" stroke-width="2.6" />
<path d="M1511.9 882.0L1511.9 895.5" stroke="#000" stroke-width="2.6" />
<path d="M1572.1 882.0L1572.1 895.5" stroke="#000" stroke-width="2.6" />
<path d="M1631.3 882.0L1631.3 895.5" stroke="#000" stroke-width="2.6" />
<path d="M1691.3 882.0L1691.3 895.5" stroke="#000" stroke-width="2.6" />
<path d="M1751.1 882.0L1751.1 895.5" stroke="#000" stroke-width="2.6" />
<path d="M1810.9 882.0L1810.9 895.5" stroke="#000" stroke-width="2.6" />
<path d="M1870.8 882.0L1870.8 895.5" stroke="#000" stroke-width="2.6" />
<path d="M1930.6 882.0L1930.6 895.5" stroke="#000" stroke-width="2.6" />
<text x="1451.7" y="662.5" font-size="19" text-anchor="middle" font-weight="bold" fill="#000" letter-spacing="0.4" >2615</text>
<text x="1512.4" y="741.0" font-size="19" text-anchor="middle" font-weight="bold" fill="#000" letter-spacing="0.4" >1678</text>
<text x="1573.3" y="742.0" font-size="19" text-anchor="middle" font-weight="bold" fill="#000" letter-spacing="0.4" >1663</text>
<text x="1631.6" y="850.2" font-size="19" text-anchor="middle" font-weight="bold" fill="#000" letter-spacing="0.4" >287</text>
<text x="1691.6" y="849.8" font-size="19" text-anchor="middle" font-weight="bold" fill="#000" letter-spacing="0.4" >290</text>
<text x="1751.4" y="850.2" font-size="19" text-anchor="middle" font-weight="bold" fill="#000" letter-spacing="0.4" >294</text>
<text x="1810.0" y="636.7" font-size="19" text-anchor="middle" font-weight="bold" fill="#000" letter-spacing="0.4" >2905</text>
<text x="1871.6" y="648.7" font-size="19" text-anchor="middle" font-weight="bold" fill="#000" letter-spacing="0.4" >2885</text>
<text x="1930.5" y="627.0" font-size="19" text-anchor="middle" font-weight="bold" fill="#000" letter-spacing="0.4" >3062</text>
<path d="M1452.6 588.9L1574.6 588.9" stroke="#000" stroke-width="2.5" />
<text x="1514.1" y="578.8" font-size="19" text-anchor="middle" font-weight="bold" fill="#000" letter-spacing="0.4" ><tspan font-style="italic">p</tspan>&lt;0.0001</text>
<path d="M1452.6 625.3L1513.9 625.3" stroke="#000" stroke-width="2.5" />
<text x="1483.7" y="616.1" font-size="19" text-anchor="middle" font-weight="bold" fill="#000" letter-spacing="0.4" ><tspan font-style="italic">p</tspan>&lt;0.0001</text>
<path d="M1632.2 763.3L1753.3 763.3" stroke="#000" stroke-width="2.5" />
<text x="1693.1" y="752.3" font-size="19" text-anchor="middle" font-weight="bold" fill="#000" letter-spacing="0.4" ><tspan font-style="italic">p</tspan>&gt;0.9999</text>
<path d="M1632.2 808.2L1690.9 808.2" stroke="#000" stroke-width="2.5" />
<text x="1660.8" y="799.4" font-size="19" text-anchor="middle" font-weight="bold" fill="#000" letter-spacing="0.4" ><tspan font-style="italic">p</tspan>&gt;0.9999</text>
<path d="M1811.2 569.0L1931.9 569.0" stroke="#000" stroke-width="2.5" />
<text x="1870.2" y="559.1" font-size="19" text-anchor="middle" font-weight="bold" fill="#000" letter-spacing="0.4" ><tspan font-style="italic">p</tspan>=0.9532</text>
<path d="M1810.9 605.8L1870.1 605.8" stroke="#000" stroke-width="2.5" />
<text x="1839.9" y="598.1" font-size="19" text-anchor="middle" font-weight="bold" fill="#000" letter-spacing="0.4" ><tspan font-style="italic">p</tspan>&gt;0.9999</text>
<text x="1460.1" y="912.0" font-size="19" text-anchor="end" font-weight="bold" fill="#000" transform="rotate(-45 1460.1 912.0)" letter-spacing="0.1" >WT(EV)</text>
<text x="1519.9" y="912.0" font-size="19" text-anchor="end" font-weight="bold" fill="#000" transform="rotate(-45 1519.9 912.0)" letter-spacing="0.1" >Δ<tspan font-style="italic">dspII</tspan>(EV)</text>
<text x="1580.1" y="912.0" font-size="19" text-anchor="end" font-weight="bold" fill="#000" transform="rotate(-45 1580.1 912.0)" letter-spacing="0.1" >Δ<tspan font-style="italic">dspI</tspan>(EV)</text>
<text x="1639.3" y="912.0" font-size="19" text-anchor="end" font-weight="bold" fill="#000" transform="rotate(-45 1639.3 912.0)" letter-spacing="0.1" >Δ<tspan font-style="italic">exsA</tspan>(EV)</text>
<text x="1699.3" y="912.0" font-size="19" text-anchor="end" font-weight="bold" fill="#000" transform="rotate(-45 1699.3 912.0)" letter-spacing="0.1" >Δ<tspan font-style="italic">dspII</tspan>Δ<tspan font-style="italic">exsA</tspan>(EV)</text>
<text x="1759.1" y="912.0" font-size="19" text-anchor="end" font-weight="bold" fill="#000" transform="rotate(-45 1759.1 912.0)" letter-spacing="0.1" >Δ<tspan font-style="italic">dspI</tspan>Δ<tspan font-style="italic">exsA</tspan>(EV)</text>
<text x="1818.9" y="912.0" font-size="19" text-anchor="end" font-weight="bold" fill="#000" transform="rotate(-45 1818.9 912.0)" letter-spacing="0.1" >Δ<tspan font-style="italic">exsA</tspan>(<tspan font-style="italic">exsA</tspan>)</text>
<text x="1878.8" y="912.0" font-size="19" text-anchor="end" font-weight="bold" fill="#000" transform="rotate(-45 1878.8 912.0)" letter-spacing="0.1" >Δ<tspan font-style="italic">dspII</tspan>Δ<tspan font-style="italic">exsA</tspan>(<tspan font-style="italic">exsA</tspan>)</text>
<text x="1938.6" y="912.0" font-size="19" text-anchor="end" font-weight="bold" fill="#000" transform="rotate(-45 1938.6 912.0)" letter-spacing="0.1" >Δ<tspan font-style="italic">dspI</tspan>Δ<tspan font-style="italic">exsA</tspan>(<tspan font-style="italic">exsA</tspan>)</text>
<text x="1312.0" y="736.0" font-size="22.8" text-anchor="middle" font-weight="bold" fill="#000" transform="rotate(-90 1312.0 736.0)" letter-spacing="0.2" >β-gal activity (Miller Units)</text>
<text x="1339.5" y="735.6" font-size="22.8" text-anchor="middle" font-weight="bold" fill="#000" transform="rotate(-90 1339.5 735.6)" letter-spacing="0.2" >(P<tspan font-style="italic">exsCEBA-lacZ</tspan>)</text>
<text x="2.5" y="1012.6" font-size="47.5" text-anchor="start" font-weight="bold" fill="#000" stroke="#000" stroke-width="0.4" stroke-linejoin="round">F</text>
<rect x="165.0" y="1150.9" width="44.4" height="183.1" fill="#99c4f7" stroke="#000" stroke-width="2.6" />
<rect x="224.1" y="1152.1" width="44.4" height="181.9" fill="#99c4f7" stroke="#000" stroke-width="2.6" />
<rect x="283.2" y="1149.2" width="44.4" height="184.8" fill="#99c4f7" stroke="#000" stroke-width="2.6" />
<rect x="342.3" y="1151.5" width="44.4" height="182.5" fill="#99c4f7" stroke="#000" stroke-width="2.6" />
<rect x="401.6" y="1141.4" width="44.4" height="192.6" fill="#99c4f7" stroke="#000" stroke-width="2.6" />
<circle cx="187.2" cy="1142.7" r="3.3" fill="#fff" stroke="#000" stroke-width="2.2"/>
<circle cx="175.8" cy="1156.3" r="3.3" fill="#fff" stroke="#000" stroke-width="2.2"/>
<circle cx="199.2" cy="1154.1" r="3.3" fill="#fff" stroke="#000" stroke-width="2.2"/>
<circle cx="246.3" cy="1131.1" r="3.3" fill="#fff" stroke="#000" stroke-width="2.2"/>
<circle cx="246.3" cy="1169.6" r="3.3" fill="#fff" stroke="#000" stroke-width="2.2"/>
<circle cx="305.6" cy="1124.3" r="3.3" fill="#fff" stroke="#000" stroke-width="2.2"/>
<circle cx="294.0" cy="1163.7" r="3.3" fill="#fff" stroke="#000" stroke-width="2.2"/>
<circle cx="317.1" cy="1159.3" r="3.3" fill="#fff" stroke="#000" stroke-width="2.2"/>
<circle cx="364.5" cy="1145.7" r="3.3" fill="#fff" stroke="#000" stroke-width="2.2"/>
<circle cx="352.9" cy="1154.7" r="3.3" fill="#fff" stroke="#000" stroke-width="2.2"/>
<circle cx="423.7" cy="1118.2" r="3.3" fill="#fff" stroke="#000" stroke-width="2.2"/>
<circle cx="423.7" cy="1170.2" r="3.3" fill="#fff" stroke="#000" stroke-width="2.2"/>
<circle cx="246.3" cy="1153.7" r="3.3" fill="#000" stroke="#000" stroke-width="2.2"/>
<circle cx="376.0" cy="1152.7" r="3.3" fill="#000" stroke="#000" stroke-width="2.2"/>
<circle cx="423.7" cy="1132.1" r="3.3" fill="#000" stroke="#000" stroke-width="2.2"/>
<path d="M187.2 1146.1L187.2 1153.7" stroke="#000" stroke-width="2.5" />
<path d="M175.4 1146.1L198.9 1146.1" stroke="#000" stroke-width="2.5" />
<path d="M175.4 1153.7L198.9 1153.7" stroke="#000" stroke-width="2.5" />
<path d="M246.3 1140.1L246.3 1162.3" stroke="#000" stroke-width="2.5" />
<path d="M234.6 1140.1L258.1 1140.1" stroke="#000" stroke-width="2.5" />
<path d="M234.6 1162.3L258.1 1162.3" stroke="#000" stroke-width="2.5" />
<path d="M305.4 1136.3L305.4 1160.7" stroke="#000" stroke-width="2.5" />
<path d="M293.6 1136.3L317.1 1136.3" stroke="#000" stroke-width="2.5" />
<path d="M293.6 1160.7L317.1 1160.7" stroke="#000" stroke-width="2.5" />
<path d="M364.5 1148.7L364.5 1152.7" stroke="#000" stroke-width="2.5" />
<path d="M352.8 1148.7L376.2 1148.7" stroke="#000" stroke-width="2.5" />
<path d="M352.8 1152.7L376.2 1152.7" stroke="#000" stroke-width="2.5" />
<path d="M423.8 1124.3L423.8 1155.7" stroke="#000" stroke-width="2.5" />
<path d="M412.1 1124.3L435.6 1124.3" stroke="#000" stroke-width="2.5" />
<path d="M412.1 1155.7L435.6 1155.7" stroke="#000" stroke-width="2.5" />
<path d="M151.8 1035.7L151.8 1335.3" stroke="#000" stroke-width="2.6" />
<path d="M139.8 1334.0L460.9 1334.0" stroke="#000" stroke-width="2.6" />
<path d="M139.8 1334.0L151.8 1334.0" stroke="#000" stroke-width="2.6" />
<text x="135.8" y="1341.0" font-size="19.5" text-anchor="end" font-weight="bold" fill="#000" letter-spacing="0.3" >0</text>
<path d="M139.8 1274.6L151.8 1274.6" stroke="#000" stroke-width="2.6" />
<text x="135.8" y="1281.6" font-size="19.5" text-anchor="end" font-weight="bold" fill="#000" letter-spacing="0.3" >50</text>
<path d="M139.8 1215.2L151.8 1215.2" stroke="#000" stroke-width="2.6" />
<text x="135.8" y="1222.2" font-size="19.5" text-anchor="end" font-weight="bold" fill="#000" letter-spacing="0.3" >100</text>
<path d="M139.8 1155.9L151.8 1155.9" stroke="#000" stroke-width="2.6" />
<text x="135.8" y="1162.9" font-size="19.5" text-anchor="end" font-weight="bold" fill="#000" letter-spacing="0.3" >150</text>
<path d="M139.8 1096.5L151.8 1096.5" stroke="#000" stroke-width="2.6" />
<text x="135.8" y="1103.5" font-size="19.5" text-anchor="end" font-weight="bold" fill="#000" letter-spacing="0.3" >200</text>
<path d="M139.8 1037.1L151.8 1037.1" stroke="#000" stroke-width="2.6" />
<text x="135.8" y="1044.1" font-size="19.5" text-anchor="end" font-weight="bold" fill="#000" letter-spacing="0.3" >250</text>
<path d="M187.2 1334.0L187.2 1347.5" stroke="#000" stroke-width="2.6" />
<path d="M246.3 1334.0L246.3 1347.5" stroke="#000" stroke-width="2.6" />
<path d="M305.4 1334.0L305.4 1347.5" stroke="#000" stroke-width="2.6" />
<path d="M364.5 1334.0L364.5 1347.5" stroke="#000" stroke-width="2.6" />
<path d="M423.8 1334.0L423.8 1347.5" stroke="#000" stroke-width="2.6" />
<text x="187.8" y="1130.7" font-size="19.5" text-anchor="middle" font-weight="bold" fill="#000" letter-spacing="0.4" >155</text>
<text x="247.3" y="1120.7" font-size="19.5" text-anchor="middle" font-weight="bold" fill="#000" letter-spacing="0.4" >154</text>
<text x="307.0" y="1115.2" font-size="19.5" text-anchor="middle" font-weight="bold" fill="#000" letter-spacing="0.4" >154</text>
<text x="364.5" y="1129.7" font-size="19.5" text-anchor="middle" font-weight="bold" fill="#000" letter-spacing="0.4" >156</text>
<text x="421.9" y="1105.2" font-size="19.5" text-anchor="middle" font-weight="bold" fill="#000" letter-spacing="0.4" >163</text>
<path d="M188.4 1042.5L368.4 1042.5" stroke="#000" stroke-width="2.5" />
<text x="277.9" y="1030.3" font-size="19.5" text-anchor="middle" font-weight="bold" fill="#000" letter-spacing="0.4" ><tspan font-style="italic">p</tspan>&gt;0.9999</text>
<path d="M188.4 1085.2L246.3 1085.2" stroke="#000" stroke-width="2.5" />
<text x="217.6" y="1074.4" font-size="19.5" text-anchor="middle" font-weight="bold" fill="#000" letter-spacing="0.4" ><tspan font-style="italic">p</tspan>&gt;0.9999</text>
<text x="195.2" y="1363.0" font-size="19.5" text-anchor="end" font-weight="bold" fill="#000" transform="rotate(-45 195.2 1363.0)" letter-spacing="0.1" >WT(EV)</text>
<text x="254.3" y="1363.0" font-size="19.5" text-anchor="end" font-weight="bold" fill="#000" transform="rotate(-45 254.3 1363.0)" letter-spacing="0.1" >Δ<tspan font-style="italic">dspII</tspan>(EV)</text>
<text x="313.4" y="1363.0" font-size="19.5" text-anchor="end" font-weight="bold" fill="#000" transform="rotate(-45 313.4 1363.0)" letter-spacing="0.1" >Δ<tspan font-style="italic">dspII</tspan>(<tspan font-style="italic">dspII</tspan>)</text>
<text x="372.5" y="1363.0" font-size="19.5" text-anchor="end" font-weight="bold" fill="#000" transform="rotate(-45 372.5 1363.0)" letter-spacing="0.1" >Δ<tspan font-style="italic">dspI</tspan>(EV)</text>
<text x="431.8" y="1363.0" font-size="19.5" text-anchor="end" font-weight="bold" fill="#000" transform="rotate(-45 431.8 1363.0)" letter-spacing="0.1" >Δ<tspan font-style="italic">dspI</tspan>(<tspan font-style="italic">dspI</tspan>)</text>
<text x="61.5" y="1186.6" font-size="22.9" text-anchor="middle" font-weight="bold" fill="#000" transform="rotate(-90 61.5 1186.6)" letter-spacing="0.2" >β-gal activity (Miller Units)</text>
<text x="89.5" y="1186.2" font-size="22.9" text-anchor="middle" font-weight="bold" fill="#000" transform="rotate(-90 89.5 1186.2)" letter-spacing="0.2" >(P<tspan font-style="italic">exsA-lacZ</tspan>)</text>
<text x="558.0" y="1013.8" font-size="47.5" text-anchor="start" font-weight="bold" fill="#000" stroke="#000" stroke-width="0.4" stroke-linejoin="round">G</text>
<rect x="763.4" y="1124.4" width="44.4" height="210.3" fill="#99c4f7" stroke="#000" stroke-width="2.6" />
<rect x="822.1" y="1184.5" width="44.4" height="150.2" fill="#99c4f7" stroke="#000" stroke-width="2.6" />
<rect x="881.0" y="1158.8" width="44.4" height="175.9" fill="#99c4f7" stroke="#000" stroke-width="2.6" />
<rect x="939.9" y="1198.5" width="44.4" height="136.2" fill="#99c4f7" stroke="#000" stroke-width="2.6" />
<rect x="998.8" y="1139.9" width="44.4" height="194.8" fill="#99c4f7" stroke="#000" stroke-width="2.6" />
<circle cx="785.8" cy="1112.7" r="3.3" fill="#fff" stroke="#000" stroke-width="2.2"/>
<circle cx="785.8" cy="1133.3" r="3.3" fill="#fff" stroke="#000" stroke-width="2.2"/>
<circle cx="844.3" cy="1176.0" r="3.3" fill="#fff" stroke="#000" stroke-width="2.2"/>
<circle cx="832.7" cy="1189.6" r="3.3" fill="#fff" stroke="#000" stroke-width="2.2"/>
<circle cx="903.5" cy="1153.3" r="3.3" fill="#fff" stroke="#000" stroke-width="2.2"/>
<circle cx="892.0" cy="1163.6" r="3.3" fill="#fff" stroke="#000" stroke-width="2.2"/>
<circle cx="962.0" cy="1190.6" r="3.3" fill="#fff" stroke="#000" stroke-width="2.2"/>
<circle cx="950.4" cy="1203.2" r="3.3" fill="#fff" stroke="#000" stroke-width="2.2"/>
<circle cx="1020.9" cy="1129.7" r="3.3" fill="#fff" stroke="#000" stroke-width="2.2"/>
<circle cx="1009.3" cy="1146.7" r="3.3" fill="#fff" stroke="#000" stroke-width="2.2"/>
<circle cx="1032.3" cy="1143.3" r="3.3" fill="#fff" stroke="#000" stroke-width="2.2"/>
<circle cx="785.8" cy="1126.3" r="3.3" fill="#000" stroke="#000" stroke-width="2.2"/>
<circle cx="856.0" cy="1187.2" r="3.3" fill="#000" stroke="#000" stroke-width="2.2"/>
<circle cx="914.5" cy="1160.0" r="3.3" fill="#000" stroke="#000" stroke-width="2.2"/>
<circle cx="973.4" cy="1201.2" r="3.3" fill="#000" stroke="#000" stroke-width="2.2"/>
<path d="M785.6 1117.7L785.6 1129.7" stroke="#000" stroke-width="2.5" />
<path d="M773.9 1117.7L797.4 1117.7" stroke="#000" stroke-width="2.5" />
<path d="M773.9 1129.7L797.4 1129.7" stroke="#000" stroke-width="2.5" />
<path d="M844.3 1179.6L844.3 1186.6" stroke="#000" stroke-width="2.5" />
<path d="M832.5 1179.6L856.0 1179.6" stroke="#000" stroke-width="2.5" />
<path d="M832.5 1186.6L856.0 1186.6" stroke="#000" stroke-width="2.5" />
<path d="M903.2 1155.7L903.2 1161.2" stroke="#000" stroke-width="2.5" />
<path d="M891.5 1155.7L915.0 1155.7" stroke="#000" stroke-width="2.5" />
<path d="M891.5 1161.2L915.0 1161.2" stroke="#000" stroke-width="2.5" />
<path d="M962.1 1194.0L962.1 1200.6" stroke="#000" stroke-width="2.5" />
<path d="M950.4 1194.0L973.9 1194.0" stroke="#000" stroke-width="2.5" />
<path d="M950.4 1200.6L973.9 1200.6" stroke="#000" stroke-width="2.5" />
<path d="M1021.0 1133.7L1021.0 1143.7" stroke="#000" stroke-width="2.5" />
<path d="M1009.2 1133.7L1032.8 1133.7" stroke="#000" stroke-width="2.5" />
<path d="M1009.2 1143.7L1032.8 1143.7" stroke="#000" stroke-width="2.5" />
<path d="M750.3 1037.8L750.3 1336.0" stroke="#000" stroke-width="2.6" />
<path d="M738.3 1334.7L1057.6 1334.7" stroke="#000" stroke-width="2.6" />
<path d="M738.3 1334.7L750.3 1334.7" stroke="#000" stroke-width="2.6" />
<text x="734.3" y="1341.7" font-size="19.5" text-anchor="end" font-weight="bold" fill="#000" letter-spacing="0.3" >0</text>
<path d="M738.3 1275.5L750.3 1275.5" stroke="#000" stroke-width="2.6" />
<text x="734.3" y="1282.5" font-size="19.5" text-anchor="end" font-weight="bold" fill="#000" letter-spacing="0.3" >500</text>
<path d="M738.3 1216.4L750.3 1216.4" stroke="#000" stroke-width="2.6" />
<text x="734.3" y="1223.4" font-size="19.5" text-anchor="end" font-weight="bold" fill="#000" letter-spacing="0.3" >1000</text>
<path d="M738.3 1157.2L750.3 1157.2" stroke="#000" stroke-width="2.6" />
<text x="734.3" y="1164.2" font-size="19.5" text-anchor="end" font-weight="bold" fill="#000" letter-spacing="0.3" >1500</text>
<path d="M738.3 1098.1L750.3 1098.1" stroke="#000" stroke-width="2.6" />
<text x="734.3" y="1105.1" font-size="19.5" text-anchor="end" font-weight="bold" fill="#000" letter-spacing="0.3" >2000</text>
<path d="M738.3 1039.0L750.3 1039.0" stroke="#000" stroke-width="2.6" />
<text x="734.3" y="1046.0" font-size="19.5" text-anchor="end" font-weight="bold" fill="#000" letter-spacing="0.3" >2500</text>
<path d="M785.6 1334.7L785.6 1348.2" stroke="#000" stroke-width="2.6" />
<path d="M844.3 1334.7L844.3 1348.2" stroke="#000" stroke-width="2.6" />
<path d="M903.2 1334.7L903.2 1348.2" stroke="#000" stroke-width="2.6" />
<path d="M962.1 1334.7L962.1 1348.2" stroke="#000" stroke-width="2.6" />
<path d="M1021.0 1334.7L1021.0 1348.2" stroke="#000" stroke-width="2.6" />
<text x="785.8" y="1109.2" font-size="19.5" text-anchor="middle" font-weight="bold" fill="#000" letter-spacing="0.4" >1786</text>
<text x="844.3" y="1171.0" font-size="19.5" text-anchor="middle" font-weight="bold" fill="#000" letter-spacing="0.4" >1278</text>
<text x="903.1" y="1146.3" font-size="19.5" text-anchor="middle" font-weight="bold" fill="#000" letter-spacing="0.4" >1495</text>
<text x="962.0" y="1185.0" font-size="19.5" text-anchor="middle" font-weight="bold" fill="#000" letter-spacing="0.4" >1160</text>
<text x="1020.9" y="1125.3" font-size="19.5" text-anchor="middle" font-weight="bold" fill="#000" letter-spacing="0.4" >1655</text>
<path d="M785.4 1027.9L964.4 1027.9" stroke="#000" stroke-width="2.5" />
<text x="878.6" y="1016.9" font-size="19.5" text-anchor="middle" font-weight="bold" fill="#000" letter-spacing="0.4" ><tspan font-style="italic">p</tspan>&lt;0.0001</text>
<path d="M973.0 1027.9L1027.7 1027.9" stroke="#000" stroke-width="2.5" />
<text x="1000.3" y="1016.9" font-size="19.5" text-anchor="middle" font-weight="bold" fill="#000" letter-spacing="0.4" ><tspan font-style="italic">p</tspan>&lt;0.0001</text>
<path d="M785.4 1076.2L842.7 1076.2" stroke="#000" stroke-width="2.5" />
<text x="800.7" y="1066.8" font-size="19.5" text-anchor="middle" font-weight="bold" fill="#000" letter-spacing="0.4" ><tspan font-style="italic">p</tspan>&lt;0.0001</text>
<path d="M851.2 1076.2L906.1 1076.2" stroke="#000" stroke-width="2.5" />
<text x="892.6" y="1066.8" font-size="19.5" text-anchor="middle" font-weight="bold" fill="#000" letter-spacing="0.4" ><tspan font-style="italic">p</tspan>=0.0121</text>
<text x="793.6" y="1363.7" font-size="19.5" text-anchor="end" font-weight="bold" fill="#000" transform="rotate(-45 793.6 1363.7)" letter-spacing="0.1" >WT(EV)</text>
<text x="852.3" y="1363.7" font-size="19.5" text-anchor="end" font-weight="bold" fill="#000" transform="rotate(-45 852.3 1363.7)" letter-spacing="0.1" >Δ<tspan font-style="italic">dspII</tspan>(EV)</text>
<text x="911.2" y="1363.7" font-size="19.5" text-anchor="end" font-weight="bold" fill="#000" transform="rotate(-45 911.2 1363.7)" letter-spacing="0.1" >Δ<tspan font-style="italic">dspII</tspan>(<tspan font-style="italic">dspII</tspan>)</text>
<text x="970.1" y="1363.7" font-size="19.5" text-anchor="end" font-weight="bold" fill="#000" transform="rotate(-45 970.1 1363.7)" letter-spacing="0.1" >Δ<tspan font-style="italic">dspI</tspan>(EV)</text>
<text x="1029.0" y="1363.7" font-size="19.5" text-anchor="end" font-weight="bold" fill="#000" transform="rotate(-45 1029.0 1363.7)" letter-spacing="0.1" >Δ<tspan font-style="italic">dspI</tspan>(<tspan font-style="italic">dspI</tspan>)</text>
<text x="648.0" y="1188.4" font-size="22.9" text-anchor="middle" font-weight="bold" fill="#000" transform="rotate(-90 648.0 1188.4)" letter-spacing="0.2" >β-gal activity (Miller Units)</text>
<text x="676.5" y="1187.8" font-size="22.9" text-anchor="middle" font-weight="bold" fill="#000" transform="rotate(-90 676.5 1187.8)" letter-spacing="0.2" >(P<tspan font-style="italic">exsCEBA-lacZ</tspan>)</text>
<text x="1171.7" y="1101.2" font-size="47.5" text-anchor="start" font-weight="bold" fill="#000" stroke="#000" stroke-width="0.4" stroke-linejoin="round">I</text>
<text x="1182.4" y="1215.5" font-size="21" text-anchor="middle" font-weight="bold" fill="#000" letter-spacing="0.2" >kDa</text>
<text x="1229.4" y="1214.0" font-size="21" text-anchor="middle" font-weight="bold" fill="#000" >M</text>
<text x="1297.6" y="1188.2" font-size="22" text-anchor="middle" font-weight="bold" fill="#000" letter-spacing="0.2" >WT</text>
<text x="1297.6" y="1213.6" font-size="21" text-anchor="middle" font-weight="bold" fill="#000" letter-spacing="0.2" >(EV)</text>
<text x="1196.4" y="1255.7" font-size="21.7" text-anchor="end" font-weight="bold" fill="#000" letter-spacing="0.5" >35</text>
<text x="1197.5" y="1334.3" font-size="21.7" text-anchor="end" font-weight="bold" fill="#000" letter-spacing="0.5" >180</text>
<text x="1852.4" y="1266.8" font-size="21.4" text-anchor="start" font-weight="bold" fill="#000" letter-spacing="0.3" >ExsA</text>
<text x="1855.8" y="1345.4" font-size="21.4" text-anchor="start" font-weight="bold" fill="#000" letter-spacing="0.3" >β-RNAP</text>
<text x="1357.6" y="1214.0" font-size="21" text-anchor="start" font-weight="bold" fill="#000" transform="rotate(-30 1357.6 1214.0)" letter-spacing="0.2" >Δ<tspan font-style="italic">dspII</tspan>(EV)</text>
<text x="1423.9" y="1214.0" font-size="21" text-anchor="start" font-weight="bold" fill="#000" transform="rotate(-30 1423.9 1214.0)" letter-spacing="0.2" >Δ<tspan font-style="italic">dspI</tspan>(EV)</text>
<text x="1479.4" y="1214.0" font-size="21" text-anchor="start" font-weight="bold" fill="#000" transform="rotate(-30 1479.4 1214.0)" letter-spacing="0.2" >Δ<tspan font-style="italic">exsA</tspan>(EV)</text>
<text x="1544.8" y="1214.0" font-size="21" text-anchor="start" font-weight="bold" fill="#000" transform="rotate(-30 1544.8 1214.0)" letter-spacing="0.2" >Δ<tspan font-style="italic">dspII</tspan>Δ<tspan font-style="italic">exsA</tspan>(EV)</text>
<text x="1608.9" y="1214.0" font-size="21" text-anchor="start" font-weight="bold" fill="#000" transform="rotate(-30 1608.9 1214.0)" letter-spacing="0.2" >Δ<tspan font-style="italic">dspI</tspan>Δ<tspan font-style="italic">exsA</tspan>(EV)</text>
<text x="1674.7" y="1214.0" font-size="21" text-anchor="start" font-weight="bold" fill="#000" transform="rotate(-30 1674.7 1214.0)" letter-spacing="0.2" >Δ<tspan font-style="italic">exsA</tspan>(<tspan font-style="italic">exsA</tspan>)</text>
<text x="1741.8" y="1214.0" font-size="21" text-anchor="start" font-weight="bold" fill="#000" transform="rotate(-30 1741.8 1214.0)" letter-spacing="0.2" >Δ<tspan font-style="italic">dspII</tspan>Δ<tspan font-style="italic">exsA</tspan>(<tspan font-style="italic">exsA</tspan>)</text>
<text x="1808.3" y="1214.0" font-size="21" text-anchor="start" font-weight="bold" fill="#000" transform="rotate(-30 1808.3 1214.0)" letter-spacing="0.2" >Δ<tspan font-style="italic">dspI</tspan>Δ<tspan font-style="italic">exsA</tspan>(<tspan font-style="italic">exsA</tspan>)</text>
<rect x="1206.0" y="1228.8" width="634.0" height="62.6" fill="#f1f1f1" stroke="none" stroke-width="0" />
<g clip-path="url(#cI1)">
<ellipse cx="1229.0" cy="1262.0" rx="22.0" ry="35.0" fill="#000" opacity="0.1" filter="url(#cI1b5)" />
<ellipse cx="1229.7" cy="1251.3" rx="19.0" ry="4.5" fill="#000" opacity="0.34" filter="url(#cI1b3)" />
<ellipse cx="1291.4" cy="1271.4" rx="21.0" ry="4.0" fill="#000" opacity="0.44" filter="url(#cI1b3)" />
<ellipse cx="1356.1" cy="1268.0" rx="22.0" ry="3.5" fill="#000" opacity="0.22" filter="url(#cI1b3)" />
<ellipse cx="1420.8" cy="1264.5" rx="21.0" ry="3.5" fill="#000" opacity="0.2" filter="url(#cI1b3)" />
<rect x="1643.0" y="1236.0" width="200.0" height="46.0" rx="23.0" fill="#000" opacity="0.16" filter="url(#cI1b5)"/>
<rect x="1653.3" y="1247.6" width="52.0" height="20.0" rx="10.0" fill="#000" opacity="1.0" filter="url(#cI1b2)"/>
<rect x="1716.2" y="1247.6" width="50.0" height="20.0" rx="10.0" fill="#000" opacity="1.0" filter="url(#cI1b2)"/>
<rect x="1778.9" y="1244.6" width="54.0" height="20.0" rx="10.0" fill="#000" opacity="1.0" filter="url(#cI1b2)"/>
</g>
<rect x="1206.0" y="1228.8" width="634.0" height="62.6" fill="none" stroke="#000" stroke-width="1.6" />
<rect x="1206.0" y="1302.3" width="634.0" height="66.6" fill="#f1f1f1" stroke="none" stroke-width="0" />
<g clip-path="url(#cI2)">
<ellipse cx="1227.8" cy="1330.4" rx="18.0" ry="4.5" fill="#000" opacity="0.22" filter="url(#cI2b3)" />
<ellipse cx="1290.6" cy="1344.1" rx="25.5" ry="15.0" fill="#000" opacity="0.1" filter="url(#cI2b5)" />
<rect x="1268.1" y="1340.2" width="45.0" height="11.8" rx="5.9" fill="#000" opacity="1.0" filter="url(#cI2b2)"/>
<ellipse cx="1356.1" cy="1342.2" rx="26.0" ry="15.0" fill="#000" opacity="0.1" filter="url(#cI2b5)" />
<rect x="1333.1" y="1338.3" width="46.0" height="11.8" rx="5.9" fill="#000" opacity="1.0" filter="url(#cI2b2)"/>
<ellipse cx="1420.2" cy="1341.8" rx="24.5" ry="15.0" fill="#000" opacity="0.1" filter="url(#cI2b5)" />
<rect x="1398.7" y="1337.9" width="43.0" height="11.8" rx="5.9" fill="#000" opacity="1.0" filter="url(#cI2b2)"/>
<ellipse cx="1481.5" cy="1341.8" rx="25.5" ry="15.0" fill="#000" opacity="0.1" filter="url(#cI2b5)" />
<rect x="1459.0" y="1337.9" width="45.0" height="11.8" rx="5.9" fill="#000" opacity="1.0" filter="url(#cI2b2)"/>
<ellipse cx="1546.8" cy="1343.4" rx="27.0" ry="15.0" fill="#000" opacity="0.1" filter="url(#cI2b5)" />
<rect x="1522.8" y="1339.5" width="48.0" height="11.8" rx="5.9" fill="#000" opacity="1.0" filter="url(#cI2b2)"/>
<ellipse cx="1611.4" cy="1341.1" rx="26.5" ry="15.0" fill="#000" opacity="0.1" filter="url(#cI2b5)" />
<rect x="1587.9" y="1337.2" width="47.0" height="11.8" rx="5.9" fill="#000" opacity="1.0" filter="url(#cI2b2)"/>
<ellipse cx="1679.6" cy="1341.1" rx="26.5" ry="15.0" fill="#000" opacity="0.1" filter="url(#cI2b5)" />
<rect x="1656.1" y="1337.2" width="47.0" height="11.8" rx="5.9" fill="#000" opacity="1.0" filter="url(#cI2b2)"/>
<ellipse cx="1742.6" cy="1338.0" rx="25.0" ry="15.0" fill="#000" opacity="0.1" filter="url(#cI2b5)" />
<rect x="1720.6" y="1334.1" width="44.0" height="11.8" rx="5.9" fill="#000" opacity="1.0" filter="url(#cI2b2)"/>
<ellipse cx="1807.7" cy="1334.4" rx="27.0" ry="15.0" fill="#000" opacity="0.1" filter="url(#cI2b5)" />
<rect x="1783.7" y="1330.5" width="48.0" height="11.8" rx="5.9" fill="#000" opacity="1.0" filter="url(#cI2b2)"/>
<path d="M1526 1331 L1528 1344" stroke="#000" stroke-width="6" stroke-linecap="round" stroke-linejoin="round" fill="none" opacity="0.9" filter="url(#cI2b2)"/>
<path d="M1590 1324 L1592 1341" stroke="#000" stroke-width="4.5" stroke-linecap="round" stroke-linejoin="round" fill="none" opacity="0.7" filter="url(#cI2b2)"/>
<path d="M1633 1324 L1631 1341" stroke="#000" stroke-width="4.5" stroke-linecap="round" stroke-linejoin="round" fill="none" opacity="0.7" filter="url(#cI2b2)"/>
<path d="M1699 1333 L1698 1342" stroke="#000" stroke-width="7" stroke-linecap="round" stroke-linejoin="round" fill="none" opacity="0.9" filter="url(#cI2b2)"/>
<path d="M1761 1334 L1760 1340" stroke="#000" stroke-width="6" stroke-linecap="round" stroke-linejoin="round" fill="none" opacity="0.9" filter="url(#cI2b2)"/>
<path d="M1827 1327 L1826 1336" stroke="#000" stroke-width="7" stroke-linecap="round" stroke-linejoin="round" fill="none" opacity="0.9" filter="url(#cI2b2)"/>
</g>
<rect x="1206.0" y="1302.3" width="634.0" height="66.6" fill="none" stroke="#000" stroke-width="1.6" />
<text x="1.5" y="1525.5" font-size="47.5" text-anchor="start" font-weight="bold" fill="#000" stroke="#000" stroke-width="0.4" stroke-linejoin="round">J</text>
<rect x="148.3" y="1644.0" width="38.6" height="209.2" fill="#99c4f7" stroke="#000" stroke-width="2.6" />
<rect x="200.7" y="1708.9" width="38.6" height="144.3" fill="#99c4f7" stroke="#000" stroke-width="2.6" />
<rect x="253.2" y="1659.1" width="38.6" height="194.1" fill="#99c4f7" stroke="#000" stroke-width="2.6" />
<rect x="305.6" y="1705.5" width="38.6" height="147.7" fill="#99c4f7" stroke="#000" stroke-width="2.6" />
<rect x="358.0" y="1703.3" width="38.6" height="149.9" fill="#99c4f7" stroke="#000" stroke-width="2.6" />
<rect x="410.4" y="1674.6" width="38.6" height="178.6" fill="#99c4f7" stroke="#000" stroke-width="2.6" />
<rect x="462.9" y="1697.4" width="38.6" height="155.8" fill="#99c4f7" stroke="#000" stroke-width="2.6" />
<rect x="515.3" y="1715.5" width="38.6" height="137.7" fill="#99c4f7" stroke="#000" stroke-width="2.6" />
<rect x="567.7" y="1723.6" width="38.6" height="129.6" fill="#99c4f7" stroke="#000" stroke-width="2.6" />
<rect x="620.2" y="1699.6" width="38.6" height="153.6" fill="#99c4f7" stroke="#000" stroke-width="2.6" />
<rect x="672.6" y="1626.0" width="38.6" height="227.2" fill="#99c4f7" stroke="#000" stroke-width="2.6" />
<circle cx="167.6" cy="1640.5" r="3.3" fill="#fff" stroke="#000" stroke-width="2.2"/>
<circle cx="179.6" cy="1643.0" r="3.3" fill="#fff" stroke="#000" stroke-width="2.2"/>
<circle cx="220.0" cy="1705.4" r="3.3" fill="#fff" stroke="#000" stroke-width="2.2"/>
<circle cx="232.0" cy="1707.9" r="3.3" fill="#fff" stroke="#000" stroke-width="2.2"/>
<circle cx="272.5" cy="1655.6" r="3.3" fill="#fff" stroke="#000" stroke-width="2.2"/>
<circle cx="284.5" cy="1658.1" r="3.3" fill="#fff" stroke="#000" stroke-width="2.2"/>
<circle cx="324.9" cy="1702.0" r="3.3" fill="#fff" stroke="#000" stroke-width="2.2"/>
<circle cx="336.9" cy="1704.5" r="3.3" fill="#fff" stroke="#000" stroke-width="2.2"/>
<circle cx="377.3" cy="1699.8" r="3.3" fill="#fff" stroke="#000" stroke-width="2.2"/>
<circle cx="389.3" cy="1702.3" r="3.3" fill="#fff" stroke="#000" stroke-width="2.2"/>
<circle cx="429.8" cy="1662.2" r="3.3" fill="#fff" stroke="#000" stroke-width="2.2"/>
<circle cx="417.4" cy="1682.5" r="3.3" fill="#fff" stroke="#000" stroke-width="2.2"/>
<circle cx="441.4" cy="1676.8" r="3.3" fill="#fff" stroke="#000" stroke-width="2.2"/>
<circle cx="482.2" cy="1693.9" r="3.3" fill="#fff" stroke="#000" stroke-width="2.2"/>
<circle cx="494.2" cy="1696.4" r="3.3" fill="#fff" stroke="#000" stroke-width="2.2"/>
<circle cx="547.1" cy="1709.9" r="3.3" fill="#fff" stroke="#000" stroke-width="2.2"/>
<circle cx="534.6" cy="1721.6" r="3.3" fill="#fff" stroke="#000" stroke-width="2.2"/>
<circle cx="587.0" cy="1720.1" r="3.3" fill="#fff" stroke="#000" stroke-width="2.2"/>
<circle cx="599.0" cy="1722.6" r="3.3" fill="#fff" stroke="#000" stroke-width="2.2"/>
<circle cx="639.5" cy="1696.1" r="3.3" fill="#fff" stroke="#000" stroke-width="2.2"/>
<circle cx="651.5" cy="1698.6" r="3.3" fill="#fff" stroke="#000" stroke-width="2.2"/>
<circle cx="704.2" cy="1621.0" r="3.3" fill="#fff" stroke="#000" stroke-width="2.2"/>
<circle cx="691.9" cy="1632.4" r="3.3" fill="#fff" stroke="#000" stroke-width="2.2"/>
<circle cx="155.6" cy="1645.5" r="3.3" fill="#000" stroke="#000" stroke-width="2.2"/>
<circle cx="208.0" cy="1710.4" r="3.3" fill="#000" stroke="#000" stroke-width="2.2"/>
<circle cx="260.5" cy="1660.6" r="3.3" fill="#000" stroke="#000" stroke-width="2.2"/>
<circle cx="312.9" cy="1707.0" r="3.3" fill="#000" stroke="#000" stroke-width="2.2"/>
<circle cx="365.3" cy="1704.8" r="3.3" fill="#000" stroke="#000" stroke-width="2.2"/>
<circle cx="470.2" cy="1698.9" r="3.3" fill="#000" stroke="#000" stroke-width="2.2"/>
<circle cx="534.6" cy="1713.7" r="3.3" fill="#000" stroke="#000" stroke-width="2.2"/>
<circle cx="575.0" cy="1725.1" r="3.3" fill="#000" stroke="#000" stroke-width="2.2"/>
<circle cx="627.5" cy="1701.1" r="3.3" fill="#000" stroke="#000" stroke-width="2.2"/>
<circle cx="691.9" cy="1623.8" r="3.3" fill="#000" stroke="#000" stroke-width="2.2"/>
<path d="M167.6 1642.5L167.6 1644.5" stroke="#000" stroke-width="2.5" />
<path d="M157.2 1642.5L178.0 1642.5" stroke="#000" stroke-width="2.5" />
<path d="M157.2 1644.5L178.0 1644.5" stroke="#000" stroke-width="2.5" />
<path d="M220.0 1707.4L220.0 1709.4" stroke="#000" stroke-width="2.5" />
<path d="M209.6 1707.4L230.4 1707.4" stroke="#000" stroke-width="2.5" />
<path d="M209.6 1709.4L230.4 1709.4" stroke="#000" stroke-width="2.5" />
<path d="M272.5 1657.6L272.5 1659.6" stroke="#000" stroke-width="2.5" />
<path d="M262.1 1657.6L282.9 1657.6" stroke="#000" stroke-width="2.5" />
<path d="M262.1 1659.6L282.9 1659.6" stroke="#000" stroke-width="2.5" />
<path d="M324.9 1704.0L324.9 1706.0" stroke="#000" stroke-width="2.5" />
<path d="M314.5 1704.0L335.3 1704.0" stroke="#000" stroke-width="2.5" />
<path d="M314.5 1706.0L335.3 1706.0" stroke="#000" stroke-width="2.5" />
<path d="M377.3 1701.8L377.3 1703.8" stroke="#000" stroke-width="2.5" />
<path d="M366.9 1701.8L387.7 1701.8" stroke="#000" stroke-width="2.5" />
<path d="M366.9 1703.8L387.7 1703.8" stroke="#000" stroke-width="2.5" />
<path d="M429.8 1667.7L429.8 1678.0" stroke="#000" stroke-width="2.5" />
<path d="M419.4 1667.7L440.1 1667.7" stroke="#000" stroke-width="2.5" />
<path d="M419.4 1678.0L440.1 1678.0" stroke="#000" stroke-width="2.5" />
<path d="M482.2 1695.9L482.2 1697.9" stroke="#000" stroke-width="2.5" />
<path d="M471.8 1695.9L492.6 1695.9" stroke="#000" stroke-width="2.5" />
<path d="M471.8 1697.9L492.6 1697.9" stroke="#000" stroke-width="2.5" />
<path d="M534.6 1711.2L534.6 1717.4" stroke="#000" stroke-width="2.5" />
<path d="M524.2 1711.2L545.0 1711.2" stroke="#000" stroke-width="2.5" />
<path d="M524.2 1717.4L545.0 1717.4" stroke="#000" stroke-width="2.5" />
<path d="M587.0 1722.1L587.0 1724.1" stroke="#000" stroke-width="2.5" />
<path d="M576.6 1722.1L597.4 1722.1" stroke="#000" stroke-width="2.5" />
<path d="M576.6 1724.1L597.4 1724.1" stroke="#000" stroke-width="2.5" />
<path d="M639.5 1698.1L639.5 1700.1" stroke="#000" stroke-width="2.5" />
<path d="M629.1 1698.1L649.9 1698.1" stroke="#000" stroke-width="2.5" />
<path d="M629.1 1700.1L649.9 1700.1" stroke="#000" stroke-width="2.5" />
<path d="M691.9 1622.0L691.9 1628.6" stroke="#000" stroke-width="2.5" />
<path d="M681.5 1622.0L702.3 1622.0" stroke="#000" stroke-width="2.5" />
<path d="M681.5 1628.6L702.3 1628.6" stroke="#000" stroke-width="2.5" />
<path d="M136.2 1539.5L136.2 1854.5" stroke="#000" stroke-width="2.6" />
<path d="M124.2 1853.2L727.5 1853.2" stroke="#000" stroke-width="2.6" />
<path d="M124.2 1853.2L136.2 1853.2" stroke="#000" stroke-width="2.6" />
<text x="120.2" y="1860.2" font-size="19.5" text-anchor="end" font-weight="bold" fill="#000" letter-spacing="0.3" >0</text>
<path d="M124.2 1775.1L136.2 1775.1" stroke="#000" stroke-width="2.6" />
<text x="120.2" y="1782.1" font-size="19.5" text-anchor="end" font-weight="bold" fill="#000" letter-spacing="0.3" >500</text>
<path d="M124.2 1697.0L136.2 1697.0" stroke="#000" stroke-width="2.6" />
<text x="120.2" y="1704.0" font-size="19.5" text-anchor="end" font-weight="bold" fill="#000" letter-spacing="0.3" >1000</text>
<path d="M124.2 1618.9L136.2 1618.9" stroke="#000" stroke-width="2.6" />
<text x="120.2" y="1625.9" font-size="19.5" text-anchor="end" font-weight="bold" fill="#000" letter-spacing="0.3" >1500</text>
<path d="M124.2 1540.8L136.2 1540.8" stroke="#000" stroke-width="2.6" />
<text x="120.2" y="1547.8" font-size="19.5" text-anchor="end" font-weight="bold" fill="#000" letter-spacing="0.3" >2000</text>
<path d="M167.6 1853.2L167.6 1866.7" stroke="#000" stroke-width="2.6" />
<path d="M220.0 1853.2L220.0 1866.7" stroke="#000" stroke-width="2.6" />
<path d="M272.5 1853.2L272.5 1866.7" stroke="#000" stroke-width="2.6" />
<path d="M324.9 1853.2L324.9 1866.7" stroke="#000" stroke-width="2.6" />
<path d="M377.3 1853.2L377.3 1866.7" stroke="#000" stroke-width="2.6" />
<path d="M429.8 1853.2L429.8 1866.7" stroke="#000" stroke-width="2.6" />
<path d="M482.2 1853.2L482.2 1866.7" stroke="#000" stroke-width="2.6" />
<path d="M534.6 1853.2L534.6 1866.7" stroke="#000" stroke-width="2.6" />
<path d="M587.0 1853.2L587.0 1866.7" stroke="#000" stroke-width="2.6" />
<path d="M639.5 1853.2L639.5 1866.7" stroke="#000" stroke-width="2.6" />
<path d="M691.9 1853.2L691.9 1866.7" stroke="#000" stroke-width="2.6" />
<text x="168.1" y="1631.4" font-size="19.5" text-anchor="middle" font-weight="bold" fill="#000" letter-spacing="0.4" >1346</text>
<text x="219.8" y="1696.6" font-size="19.5" text-anchor="middle" font-weight="bold" fill="#000" letter-spacing="0.4" >930</text>
<text x="272.7" y="1647.1" font-size="19.5" text-anchor="middle" font-weight="bold" fill="#000" letter-spacing="0.4" >1249</text>
<text x="324.7" y="1693.4" font-size="19.5" text-anchor="middle" font-weight="bold" fill="#000" letter-spacing="0.4" >952</text>
<text x="377.3" y="1691.3" font-size="19.5" text-anchor="middle" font-weight="bold" fill="#000" letter-spacing="0.4" >966</text>
<text x="430.1" y="1657.9" font-size="19.5" text-anchor="middle" font-weight="bold" fill="#000" letter-spacing="0.4" >1150</text>
<text x="482.1" y="1685.3" font-size="19.5" text-anchor="middle" font-weight="bold" fill="#000" letter-spacing="0.4" >1004</text>
<text x="534.5" y="1700.8" font-size="19.5" text-anchor="middle" font-weight="bold" fill="#000" letter-spacing="0.4" >888</text>
<text x="586.7" y="1709.9" font-size="19.5" text-anchor="middle" font-weight="bold" fill="#000" letter-spacing="0.4" >836</text>
<text x="639.0" y="1688.1" font-size="19.5" text-anchor="middle" font-weight="bold" fill="#000" letter-spacing="0.4" >990</text>
<text x="691.6" y="1612.5" font-size="19.5" text-anchor="middle" font-weight="bold" fill="#000" letter-spacing="0.4" >1461</text>
<path d="M209.4 1564.3L328.5 1564.3" stroke="#000" stroke-width="2.5" />
<text x="268.9" y="1553.3" font-size="20.5" text-anchor="middle" font-weight="bold" fill="#000" letter-spacing="0.4" ><tspan font-style="italic">p</tspan>=0.9954</text>
<path d="M209.7 1606.8L268.4 1606.8" stroke="#000" stroke-width="2.5" />
<text x="240.1" y="1597.4" font-size="20.5" text-anchor="middle" font-weight="bold" fill="#000" letter-spacing="0.4" ><tspan font-style="italic">p</tspan>&lt;0.0001</text>
<path d="M371.6 1564.7L490.6 1564.7" stroke="#000" stroke-width="2.5" />
<text x="432.2" y="1553.9" font-size="20.5" text-anchor="middle" font-weight="bold" fill="#000" letter-spacing="0.4" ><tspan font-style="italic">p</tspan>=0.8225</text>
<path d="M371.6 1607.2L430.5 1607.2" stroke="#000" stroke-width="2.5" />
<text x="397.7" y="1597.4" font-size="20.5" text-anchor="middle" font-weight="bold" fill="#000" letter-spacing="0.4" ><tspan font-style="italic">p</tspan>&lt;0.0001</text>
<path d="M526.9 1524.6L691.6 1524.6" stroke="#000" stroke-width="2.5" />
<text x="611.1" y="1515.1" font-size="20.5" text-anchor="middle" font-weight="bold" fill="#000" letter-spacing="0.4" ><tspan font-style="italic">p</tspan>&lt;0.0001</text>
<path d="M526.9 1564.7L645.3 1564.7" stroke="#000" stroke-width="2.5" />
<text x="587.0" y="1554.8" font-size="20.5" text-anchor="middle" font-weight="bold" fill="#000" letter-spacing="0.4" ><tspan font-style="italic">p</tspan>=0.0060</text>
<path d="M527.5 1607.8L586.1 1607.8" stroke="#000" stroke-width="2.5" />
<text x="552.3" y="1597.7" font-size="20.5" text-anchor="middle" font-weight="bold" fill="#000" letter-spacing="0.4" ><tspan font-style="italic">p</tspan>=0.4881</text>
<text x="175.6" y="1882.2" font-size="20.8" text-anchor="end" font-weight="bold" fill="#000" transform="rotate(-45 175.6 1882.2)" letter-spacing="0.1" >WT(EV)</text>
<text x="228.0" y="1882.2" font-size="20.8" text-anchor="end" font-weight="bold" fill="#000" transform="rotate(-45 228.0 1882.2)" letter-spacing="0.1" >Δ<tspan font-style="italic">dspII</tspan>(EV)</text>
<text x="280.5" y="1882.2" font-size="20.8" text-anchor="end" font-weight="bold" fill="#000" transform="rotate(-45 280.5 1882.2)" letter-spacing="0.1" >Δ<tspan font-style="italic">dspII</tspan>(<tspan font-style="italic">dspII</tspan>)</text>
<text x="332.9" y="1882.2" font-size="20.8" text-anchor="end" font-weight="bold" fill="#000" transform="rotate(-45 332.9 1882.2)" letter-spacing="0.1" >Δ<tspan font-style="italic">dspII</tspan>(<tspan font-style="italic">dspI</tspan>)</text>
<text x="385.3" y="1882.2" font-size="20.8" text-anchor="end" font-weight="bold" fill="#000" transform="rotate(-45 385.3 1882.2)" letter-spacing="0.1" >Δ<tspan font-style="italic">dspI</tspan>(EV)</text>
<text x="437.8" y="1882.2" font-size="20.8" text-anchor="end" font-weight="bold" fill="#000" transform="rotate(-45 437.8 1882.2)" letter-spacing="0.1" >Δ<tspan font-style="italic">dspI</tspan>(<tspan font-style="italic">dspI</tspan>)</text>
<text x="490.2" y="1882.2" font-size="20.8" text-anchor="end" font-weight="bold" fill="#000" transform="rotate(-45 490.2 1882.2)" letter-spacing="0.1" >Δ<tspan font-style="italic">dspI</tspan>(<tspan font-style="italic">dspII</tspan>)</text>
<text x="542.6" y="1882.2" font-size="20.8" text-anchor="end" font-weight="bold" fill="#000" transform="rotate(-45 542.6 1882.2)" letter-spacing="0.1" >Δ<tspan font-style="italic">dspII</tspan>Δ<tspan font-style="italic">dspI</tspan>(EV)</text>
<text x="595.0" y="1882.2" font-size="20.8" text-anchor="end" font-weight="bold" fill="#000" transform="rotate(-45 595.0 1882.2)" letter-spacing="0.1" >Δ<tspan font-style="italic">dspII</tspan>Δ<tspan font-style="italic">dspI</tspan>(<tspan font-style="italic">dspI</tspan>)</text>
<text x="647.5" y="1882.2" font-size="20.8" text-anchor="end" font-weight="bold" fill="#000" transform="rotate(-45 647.5 1882.2)" letter-spacing="0.1" >Δ<tspan font-style="italic">dspII</tspan>Δ<tspan font-style="italic">dspI</tspan>(<tspan font-style="italic">dspII</tspan>)</text>
<text x="699.9" y="1882.2" font-size="20.8" text-anchor="end" font-weight="bold" fill="#000" transform="rotate(-45 699.9 1882.2)" letter-spacing="0.1" >Δ<tspan font-style="italic">dspII</tspan>Δ<tspan font-style="italic">dspI</tspan>(<tspan font-style="italic">dspII</tspan>&amp;<tspan font-style="italic">dspI</tspan>)</text>
<text x="58.2" y="1696.8" font-size="24.0" text-anchor="middle" font-weight="bold" fill="#000" transform="rotate(-90 58.2 1696.8)" letter-spacing="0.2" >β-gal activity (Miller Units)</text>
<text x="749.5" y="1526.8" font-size="47.5" text-anchor="start" font-weight="bold" fill="#000" stroke="#000" stroke-width="0.4" stroke-linejoin="round">K</text>
<path d="M908 1735.1H1400" stroke="#000" stroke-width="2.3" stroke-dasharray="2.3 6.1" fill="none"/>
<rect x="910.7" y="1674.6" width="31.2" height="182.6" fill="#d9d9d9" stroke="#000" stroke-width="2.6" />
<path d="M912.7 1735.1H939.9" stroke="#fff" stroke-width="2.3" stroke-dasharray="2.3 6.1" stroke-dashoffset="4.70" fill="none"/>
<rect x="947.5" y="1738.9" width="31.2" height="118.3" fill="#99c4f7" stroke="#000" stroke-width="2.6" />
<rect x="984.8" y="1734.4" width="31.2" height="122.8" fill="#4fa9ae" stroke="#000" stroke-width="2.6" />
<rect x="1037.9" y="1694.3" width="31.2" height="162.9" fill="#d9d9d9" stroke="#000" stroke-width="2.6" />
<path d="M1039.9 1735.1H1067.1" stroke="#fff" stroke-width="2.3" stroke-dasharray="2.3 6.1" stroke-dashoffset="5.90" fill="none"/>
<rect x="1074.8" y="1722.9" width="31.2" height="134.3" fill="#99c4f7" stroke="#000" stroke-width="2.6" />
<path d="M1076.8 1735.1H1104.0" stroke="#fff" stroke-width="2.3" stroke-dasharray="2.3 6.1" stroke-dashoffset="0.80" fill="none"/>
<rect x="1111.6" y="1731.9" width="31.2" height="125.3" fill="#4fa9ae" stroke="#000" stroke-width="2.6" />
<path d="M1113.6 1735.1H1140.8" stroke="#fff" stroke-width="2.3" stroke-dasharray="2.3 6.1" stroke-dashoffset="4.00" fill="none"/>
<rect x="1164.9" y="1699.0" width="31.2" height="158.2" fill="#d9d9d9" stroke="#000" stroke-width="2.6" />
<path d="M1166.9 1735.1H1194.1" stroke="#fff" stroke-width="2.3" stroke-dasharray="2.3 6.1" stroke-dashoffset="6.90" fill="none"/>
<rect x="1201.4" y="1728.8" width="31.2" height="128.4" fill="#99c4f7" stroke="#000" stroke-width="2.6" />
<path d="M1203.4 1735.1H1230.6" stroke="#fff" stroke-width="2.3" stroke-dasharray="2.3 6.1" stroke-dashoffset="1.40" fill="none"/>
<rect x="1238.6" y="1743.8" width="31.2" height="113.4" fill="#4fa9ae" stroke="#000" stroke-width="2.6" />
<rect x="1291.8" y="1713.2" width="31.2" height="144.0" fill="#d9d9d9" stroke="#000" stroke-width="2.6" />
<path d="M1293.8 1735.1H1321.0" stroke="#fff" stroke-width="2.3" stroke-dasharray="2.3 6.1" stroke-dashoffset="7.80" fill="none"/>
<rect x="1328.8" y="1737.0" width="31.2" height="120.2" fill="#99c4f7" stroke="#000" stroke-width="2.6" />
<rect x="1365.5" y="1743.8" width="31.2" height="113.4" fill="#4fa9ae" stroke="#000" stroke-width="2.6" />
<circle cx="912.3" cy="1677.1" r="3.2" fill="#fff" stroke="#000" stroke-width="2.2"/>
<circle cx="926.3" cy="1669.1" r="3.2" fill="#fff" stroke="#000" stroke-width="2.2"/>
<circle cx="940.3" cy="1673.1" r="3.2" fill="#fff" stroke="#000" stroke-width="2.2"/>
<circle cx="963.1" cy="1726.7" r="3.2" fill="#fff" stroke="#000" stroke-width="2.2"/>
<circle cx="963.1" cy="1752.2" r="3.2" fill="#fff" stroke="#000" stroke-width="2.2"/>
<circle cx="1000.4" cy="1729.9" r="3.2" fill="#fff" stroke="#000" stroke-width="2.2"/>
<circle cx="1039.5" cy="1696.8" r="3.2" fill="#fff" stroke="#000" stroke-width="2.2"/>
<circle cx="1053.5" cy="1688.8" r="3.2" fill="#fff" stroke="#000" stroke-width="2.2"/>
<circle cx="1067.5" cy="1692.8" r="3.2" fill="#fff" stroke="#000" stroke-width="2.2"/>
<circle cx="1104.4" cy="1717.9" r="3.2" fill="#fff" stroke="#000" stroke-width="2.2"/>
<circle cx="1090.4" cy="1726.9" r="3.2" fill="#fff" stroke="#000" stroke-width="2.2"/>
<circle cx="1127.2" cy="1727.4" r="3.2" fill="#fff" stroke="#000" stroke-width="2.2"/>
<circle cx="1166.5" cy="1701.5" r="3.2" fill="#fff" stroke="#000" stroke-width="2.2"/>
<circle cx="1180.5" cy="1693.5" r="3.2" fill="#fff" stroke="#000" stroke-width="2.2"/>
<circle cx="1194.5" cy="1697.5" r="3.2" fill="#fff" stroke="#000" stroke-width="2.2"/>
<circle cx="1231.0" cy="1723.8" r="3.2" fill="#fff" stroke="#000" stroke-width="2.2"/>
<circle cx="1217.0" cy="1732.8" r="3.2" fill="#fff" stroke="#000" stroke-width="2.2"/>
<circle cx="1254.2" cy="1739.3" r="3.2" fill="#fff" stroke="#000" stroke-width="2.2"/>
<circle cx="1240.2" cy="1744.8" r="3.2" fill="#fff" stroke="#000" stroke-width="2.2"/>
<circle cx="1268.2" cy="1740.8" r="3.2" fill="#fff" stroke="#000" stroke-width="2.2"/>
<circle cx="1293.4" cy="1715.7" r="3.2" fill="#fff" stroke="#000" stroke-width="2.2"/>
<circle cx="1307.4" cy="1707.7" r="3.2" fill="#fff" stroke="#000" stroke-width="2.2"/>
<circle cx="1321.4" cy="1711.7" r="3.2" fill="#fff" stroke="#000" stroke-width="2.2"/>
<circle cx="1344.4" cy="1732.5" r="3.2" fill="#fff" stroke="#000" stroke-width="2.2"/>
<circle cx="1381.1" cy="1739.3" r="3.2" fill="#fff" stroke="#000" stroke-width="2.2"/>
<circle cx="1367.1" cy="1744.8" r="3.2" fill="#fff" stroke="#000" stroke-width="2.2"/>
<circle cx="1395.1" cy="1740.8" r="3.2" fill="#fff" stroke="#000" stroke-width="2.2"/>
<circle cx="963.1" cy="1737.4" r="3.2" fill="#000" stroke="#000" stroke-width="2.2"/>
<circle cx="986.4" cy="1734.4" r="3.2" fill="#000" stroke="#000" stroke-width="2.2"/>
<circle cx="1014.4" cy="1733.9" r="3.2" fill="#000" stroke="#000" stroke-width="2.2"/>
<circle cx="1090.4" cy="1720.9" r="3.2" fill="#000" stroke="#000" stroke-width="2.2"/>
<circle cx="1113.2" cy="1731.9" r="3.2" fill="#000" stroke="#000" stroke-width="2.2"/>
<circle cx="1141.2" cy="1731.4" r="3.2" fill="#000" stroke="#000" stroke-width="2.2"/>
<circle cx="1217.0" cy="1726.8" r="3.2" fill="#000" stroke="#000" stroke-width="2.2"/>
<circle cx="1330.4" cy="1737.0" r="3.2" fill="#000" stroke="#000" stroke-width="2.2"/>
<circle cx="1358.4" cy="1736.5" r="3.2" fill="#000" stroke="#000" stroke-width="2.2"/>
<path d="M926.3 1670.6L926.3 1674.6" stroke="#000" stroke-width="2.5" />
<path d="M917.8 1670.6L934.8 1670.6" stroke="#000" stroke-width="2.5" />
<path d="M917.8 1674.6L934.8 1674.6" stroke="#000" stroke-width="2.5" />
<path d="M963.1 1731.1L963.1 1745.4" stroke="#000" stroke-width="2.5" />
<path d="M954.6 1731.1L971.6 1731.1" stroke="#000" stroke-width="2.5" />
<path d="M954.6 1745.4L971.6 1745.4" stroke="#000" stroke-width="2.5" />
<path d="M1000.4 1731.9L1000.4 1734.4" stroke="#000" stroke-width="2.5" />
<path d="M991.9 1731.9L1008.9 1731.9" stroke="#000" stroke-width="2.5" />
<path d="M991.9 1734.4L1008.9 1734.4" stroke="#000" stroke-width="2.5" />
<path d="M1053.5 1690.3L1053.5 1694.3" stroke="#000" stroke-width="2.5" />
<path d="M1045.0 1690.3L1062.0 1690.3" stroke="#000" stroke-width="2.5" />
<path d="M1045.0 1694.3L1062.0 1694.3" stroke="#000" stroke-width="2.5" />
<path d="M1090.4 1718.4L1090.4 1724.4" stroke="#000" stroke-width="2.5" />
<path d="M1081.9 1718.4L1098.9 1718.4" stroke="#000" stroke-width="2.5" />
<path d="M1081.9 1724.4L1098.9 1724.4" stroke="#000" stroke-width="2.5" />
<path d="M1127.2 1729.4L1127.2 1731.9" stroke="#000" stroke-width="2.5" />
<path d="M1118.7 1729.4L1135.7 1729.4" stroke="#000" stroke-width="2.5" />
<path d="M1118.7 1731.9L1135.7 1731.9" stroke="#000" stroke-width="2.5" />
<path d="M1180.5 1695.0L1180.5 1699.0" stroke="#000" stroke-width="2.5" />
<path d="M1172.0 1695.0L1189.0 1695.0" stroke="#000" stroke-width="2.5" />
<path d="M1172.0 1699.0L1189.0 1699.0" stroke="#000" stroke-width="2.5" />
<path d="M1217.0 1724.3L1217.0 1730.3" stroke="#000" stroke-width="2.5" />
<path d="M1208.5 1724.3L1225.5 1724.3" stroke="#000" stroke-width="2.5" />
<path d="M1208.5 1730.3L1225.5 1730.3" stroke="#000" stroke-width="2.5" />
<path d="M1254.2 1741.3L1254.2 1743.8" stroke="#000" stroke-width="2.5" />
<path d="M1245.7 1741.3L1262.7 1741.3" stroke="#000" stroke-width="2.5" />
<path d="M1245.7 1743.8L1262.7 1743.8" stroke="#000" stroke-width="2.5" />
<path d="M1307.4 1709.2L1307.4 1713.2" stroke="#000" stroke-width="2.5" />
<path d="M1298.9 1709.2L1315.9 1709.2" stroke="#000" stroke-width="2.5" />
<path d="M1298.9 1713.2L1315.9 1713.2" stroke="#000" stroke-width="2.5" />
<path d="M1344.4 1734.5L1344.4 1737.0" stroke="#000" stroke-width="2.5" />
<path d="M1335.9 1734.5L1352.9 1734.5" stroke="#000" stroke-width="2.5" />
<path d="M1335.9 1737.0L1352.9 1737.0" stroke="#000" stroke-width="2.5" />
<path d="M1381.1 1741.3L1381.1 1743.8" stroke="#000" stroke-width="2.5" />
<path d="M1372.6 1741.3L1389.6 1741.3" stroke="#000" stroke-width="2.5" />
<path d="M1372.6 1743.8L1389.6 1743.8" stroke="#000" stroke-width="2.5" />
<path d="M901.5 1557.3L901.5 1858.5" stroke="#000" stroke-width="2.6" />
<path d="M889.5 1857.2L1408.2 1857.2" stroke="#000" stroke-width="2.6" />
<path d="M889.5 1857.2L901.5 1857.2" stroke="#000" stroke-width="2.6" />
<text x="885.5" y="1864.2" font-size="20.5" text-anchor="end" font-weight="bold" fill="#000" letter-spacing="0.3" >0</text>
<path d="M889.5 1782.5L901.5 1782.5" stroke="#000" stroke-width="2.6" />
<text x="885.5" y="1789.5" font-size="20.5" text-anchor="end" font-weight="bold" fill="#000" letter-spacing="0.3" >500</text>
<path d="M889.5 1707.9L901.5 1707.9" stroke="#000" stroke-width="2.6" />
<text x="885.5" y="1714.9" font-size="20.5" text-anchor="end" font-weight="bold" fill="#000" letter-spacing="0.3" >1000</text>
<path d="M889.5 1633.2L901.5 1633.2" stroke="#000" stroke-width="2.6" />
<text x="885.5" y="1640.2" font-size="20.5" text-anchor="end" font-weight="bold" fill="#000" letter-spacing="0.3" >1500</text>
<path d="M889.5 1558.6L901.5 1558.6" stroke="#000" stroke-width="2.6" />
<text x="885.5" y="1565.6" font-size="20.5" text-anchor="end" font-weight="bold" fill="#000" letter-spacing="0.3" >2000</text>
<path d="M963.1 1857.2L963.1 1869.9" stroke="#000" stroke-width="2.6" />
<text x="971.1" y="1886.7" font-size="21.3" text-anchor="end" font-weight="bold" fill="#000" transform="rotate(-45 971.1 1886.7)" letter-spacing="0.1" >Control</text>
<path d="M1090.1 1857.2L1090.1 1869.9" stroke="#000" stroke-width="2.6" />
<text x="1098.1" y="1886.7" font-size="21.3" text-anchor="end" font-weight="bold" fill="#000" transform="rotate(-45 1098.1 1886.7)" letter-spacing="0.1" >10 μM</text>
<path d="M1216.9 1857.2L1216.9 1869.9" stroke="#000" stroke-width="2.6" />
<text x="1224.9" y="1886.7" font-size="21.3" text-anchor="end" font-weight="bold" fill="#000" transform="rotate(-45 1224.9 1886.7)" letter-spacing="0.1" >50 μM</text>
<path d="M1344.4 1857.2L1344.4 1869.9" stroke="#000" stroke-width="2.6" />
<text x="1352.4" y="1886.7" font-size="21.3" text-anchor="end" font-weight="bold" fill="#000" transform="rotate(-45 1352.4 1886.7)" letter-spacing="0.1" >100 μM</text>
<text x="926.5" y="1662.3" font-size="19.5" text-anchor="middle" font-weight="bold" fill="#000" letter-spacing="0.3" >1230</text>
<text x="963.1" y="1721.3" font-size="19.5" text-anchor="middle" font-weight="bold" fill="#000" letter-spacing="0.3" >799</text>
<text x="999.8" y="1722.7" font-size="19.5" text-anchor="middle" font-weight="bold" fill="#000" letter-spacing="0.3" >829</text>
<text x="1053.4" y="1682.5" font-size="19.5" text-anchor="middle" font-weight="bold" fill="#000" letter-spacing="0.3" >1098</text>
<text x="1090.1" y="1709.3" font-size="19.5" text-anchor="middle" font-weight="bold" fill="#000" letter-spacing="0.3" >906</text>
<text x="1126.7" y="1719.5" font-size="19.5" text-anchor="middle" font-weight="bold" fill="#000" letter-spacing="0.3" >846</text>
<text x="1180.8" y="1685.2" font-size="19.5" text-anchor="middle" font-weight="bold" fill="#000" letter-spacing="0.3" >1066</text>
<text x="1216.9" y="1715.1" font-size="19.5" text-anchor="middle" font-weight="bold" fill="#000" letter-spacing="0.3" >867</text>
<text x="1254.4" y="1732.0" font-size="19.5" text-anchor="middle" font-weight="bold" fill="#000" letter-spacing="0.3" >766</text>
<text x="1306.6" y="1700.7" font-size="19.5" text-anchor="middle" font-weight="bold" fill="#000" letter-spacing="0.3" >971</text>
<text x="1344.4" y="1724.9" font-size="19.5" text-anchor="middle" font-weight="bold" fill="#000" letter-spacing="0.3" >812</text>
<text x="1381.7" y="1732.0" font-size="19.5" text-anchor="middle" font-weight="bold" fill="#000" letter-spacing="0.3" >766</text>
<path d="M929.7 1596.5L1000.1 1596.5" stroke="#000" stroke-width="2.5" />
<text x="965.8" y="1595.2" font-size="26" text-anchor="middle" font-weight="bold" fill="#000" letter-spacing="-0.5" >***</text>
<path d="M928.6 1628.3L963.5 1628.3" stroke="#000" stroke-width="2.5" />
<text x="945.6" y="1627.0" font-size="26" text-anchor="middle" font-weight="bold" fill="#000" letter-spacing="-0.5" >***</text>
<path d="M1057.4 1618.0L1127.6 1618.0" stroke="#000" stroke-width="2.5" />
<text x="1093.3" y="1616.7" font-size="26" text-anchor="middle" font-weight="bold" fill="#000" letter-spacing="-0.5" >***</text>
<path d="M1056.1 1650.1L1090.6 1650.1" stroke="#000" stroke-width="2.5" />
<text x="1073.5" y="1648.8" font-size="26" text-anchor="middle" font-weight="bold" fill="#000" letter-spacing="-0.5" >***</text>
<path d="M1182.4 1618.3L1252.6 1618.3" stroke="#000" stroke-width="2.5" />
<text x="1218.1" y="1617.0" font-size="26" text-anchor="middle" font-weight="bold" fill="#000" letter-spacing="-0.5" >***</text>
<path d="M1181.1 1650.9L1215.5 1650.9" stroke="#000" stroke-width="2.5" />
<text x="1198.1" y="1649.6" font-size="26" text-anchor="middle" font-weight="bold" fill="#000" letter-spacing="-0.5" >***</text>
<path d="M1309.9 1617.4L1380.1 1617.4" stroke="#000" stroke-width="2.5" />
<text x="1345.6" y="1616.1" font-size="26" text-anchor="middle" font-weight="bold" fill="#000" letter-spacing="-0.5" >***</text>
<path d="M1308.6 1649.8L1343.3 1649.8" stroke="#000" stroke-width="2.5" />
<text x="1325.4" y="1648.5" font-size="26" text-anchor="middle" font-weight="bold" fill="#000" letter-spacing="-0.5" >***</text>
<rect x="1057.8" y="1549.5" width="31.2" height="13.8" fill="#d9d9d9" stroke="#000" stroke-width="2.6" />
<text x="1101.7" y="1564.5" font-size="19.4" text-anchor="start" font-weight="bold" fill="#000" letter-spacing="0.1" >WT</text>
<rect x="1167.6" y="1550.1" width="31.2" height="13.8" fill="#99c4f7" stroke="#000" stroke-width="2.6" />
<text x="1211.2" y="1564.3" font-size="19.4" text-anchor="start" font-weight="bold" fill="#000" letter-spacing="0.1" >Δ<tspan font-style="italic" letter-spacing="-0.5">dspII</tspan></text>
<rect x="1298.3" y="1551.5" width="31.2" height="13.8" fill="#4fa9ae" stroke="#000" stroke-width="2.6" />
<text x="1342.0" y="1565.8" font-size="19.4" text-anchor="start" font-weight="bold" fill="#000" letter-spacing="0.1" >Δ<tspan font-style="italic" letter-spacing="-0.5">dspI</tspan></text>
<text x="798.5" y="1708.0" font-size="23.0" text-anchor="middle" font-weight="bold" fill="#000" transform="rotate(-90 798.5 1708.0)" letter-spacing="0.2" >β-gal activity (Miller Units)</text>
<text x="826.0" y="1708.3" font-size="23.0" text-anchor="middle" font-weight="bold" fill="#000" transform="rotate(-90 826.0 1708.3)" letter-spacing="0.2" >(P<tspan font-style="italic">exsCEBA-lacZ</tspan>)</text>
<text x="1433.5" y="1526.5" font-size="47.5" text-anchor="start" font-weight="bold" fill="#000" stroke="#000" stroke-width="0.4" stroke-linejoin="round">L</text>
<rect x="1600.2" y="1682.4" width="36.0" height="179.0" fill="#99c4f7" stroke="#000" stroke-width="2.6" />
<rect x="1649.8" y="1750.4" width="36.0" height="111.0" fill="#99c4f7" stroke="#000" stroke-width="2.6" />
<rect x="1699.4" y="1689.4" width="36.0" height="172.0" fill="#99c4f7" stroke="#000" stroke-width="2.6" />
<rect x="1748.9" y="1724.9" width="36.0" height="136.5" fill="#99c4f7" stroke="#000" stroke-width="2.6" />
<rect x="1798.5" y="1762.4" width="36.0" height="99.0" fill="#99c4f7" stroke="#000" stroke-width="2.6" />
<rect x="1848.1" y="1696.6" width="36.0" height="164.8" fill="#99c4f7" stroke="#000" stroke-width="2.6" />
<rect x="1897.7" y="1727.2" width="36.0" height="134.2" fill="#99c4f7" stroke="#000" stroke-width="2.6" />
<rect x="1947.3" y="1733.8" width="36.0" height="127.6" fill="#99c4f7" stroke="#000" stroke-width="2.6" />
<circle cx="1630.1" cy="1678.3" r="3.3" fill="#fff" stroke="#000" stroke-width="2.2"/>
<circle cx="1618.3" cy="1688.3" r="3.3" fill="#fff" stroke="#000" stroke-width="2.2"/>
<circle cx="1667.9" cy="1746.4" r="3.3" fill="#fff" stroke="#000" stroke-width="2.2"/>
<circle cx="1717.6" cy="1674.0" r="3.3" fill="#fff" stroke="#000" stroke-width="2.2"/>
<circle cx="1717.6" cy="1705.7" r="3.3" fill="#fff" stroke="#000" stroke-width="2.2"/>
<circle cx="1778.8" cy="1716.5" r="3.3" fill="#fff" stroke="#000" stroke-width="2.2"/>
<circle cx="1767.0" cy="1739.4" r="3.3" fill="#fff" stroke="#000" stroke-width="2.2"/>
<circle cx="1816.6" cy="1754.9" r="3.3" fill="#fff" stroke="#000" stroke-width="2.2"/>
<circle cx="1804.7" cy="1766.2" r="3.3" fill="#fff" stroke="#000" stroke-width="2.2"/>
<circle cx="1827.9" cy="1765.9" r="3.3" fill="#fff" stroke="#000" stroke-width="2.2"/>
<circle cx="1866.1" cy="1668.5" r="3.3" fill="#fff" stroke="#000" stroke-width="2.2"/>
<circle cx="1866.1" cy="1717.1" r="3.3" fill="#fff" stroke="#000" stroke-width="2.2"/>
<circle cx="1915.5" cy="1724.7" r="3.3" fill="#fff" stroke="#000" stroke-width="2.2"/>
<circle cx="1927.2" cy="1727.5" r="3.3" fill="#fff" stroke="#000" stroke-width="2.2"/>
<circle cx="1965.0" cy="1724.3" r="3.3" fill="#fff" stroke="#000" stroke-width="2.2"/>
<circle cx="1953.3" cy="1738.8" r="3.3" fill="#fff" stroke="#000" stroke-width="2.2"/>
<circle cx="1976.4" cy="1738.3" r="3.3" fill="#fff" stroke="#000" stroke-width="2.2"/>
<circle cx="1618.3" cy="1678.3" r="3.3" fill="#000" stroke="#000" stroke-width="2.2"/>
<circle cx="1656.2" cy="1752.6" r="3.3" fill="#000" stroke="#000" stroke-width="2.2"/>
<circle cx="1679.8" cy="1751.5" r="3.3" fill="#000" stroke="#000" stroke-width="2.2"/>
<circle cx="1717.6" cy="1687.8" r="3.3" fill="#000" stroke="#000" stroke-width="2.2"/>
<circle cx="1767.0" cy="1717.1" r="3.3" fill="#000" stroke="#000" stroke-width="2.2"/>
<circle cx="1866.1" cy="1703.8" r="3.3" fill="#000" stroke="#000" stroke-width="2.2"/>
<circle cx="1904.2" cy="1728.0" r="3.3" fill="#000" stroke="#000" stroke-width="2.2"/>
<path d="M1618.2 1678.3L1618.2 1684.0" stroke="#000" stroke-width="2.5" />
<path d="M1608.5 1678.3L1628.0 1678.3" stroke="#000" stroke-width="2.5" />
<path d="M1608.5 1684.0L1628.0 1684.0" stroke="#000" stroke-width="2.5" />
<path d="M1667.8 1748.9L1667.8 1750.9" stroke="#000" stroke-width="2.5" />
<path d="M1658.0 1748.9L1677.5 1748.9" stroke="#000" stroke-width="2.5" />
<path d="M1658.0 1750.9L1677.5 1750.9" stroke="#000" stroke-width="2.5" />
<path d="M1717.4 1680.2L1717.4 1698.5" stroke="#000" stroke-width="2.5" />
<path d="M1707.6 1680.2L1727.1 1680.2" stroke="#000" stroke-width="2.5" />
<path d="M1707.6 1698.5L1727.1 1698.5" stroke="#000" stroke-width="2.5" />
<path d="M1766.9 1717.1L1766.9 1731.8" stroke="#000" stroke-width="2.5" />
<path d="M1757.2 1717.1L1776.7 1717.1" stroke="#000" stroke-width="2.5" />
<path d="M1757.2 1731.8L1776.7 1731.8" stroke="#000" stroke-width="2.5" />
<path d="M1816.5 1758.7L1816.5 1765.3" stroke="#000" stroke-width="2.5" />
<path d="M1806.8 1758.7L1826.3 1758.7" stroke="#000" stroke-width="2.5" />
<path d="M1806.8 1765.3L1826.3 1765.3" stroke="#000" stroke-width="2.5" />
<path d="M1866.1 1681.7L1866.1 1710.5" stroke="#000" stroke-width="2.5" />
<path d="M1856.3 1681.7L1875.8 1681.7" stroke="#000" stroke-width="2.5" />
<path d="M1856.3 1710.5L1875.8 1710.5" stroke="#000" stroke-width="2.5" />
<path d="M1915.7 1725.7L1915.7 1727.7" stroke="#000" stroke-width="2.5" />
<path d="M1905.9 1725.7L1925.4 1725.7" stroke="#000" stroke-width="2.5" />
<path d="M1905.9 1727.7L1925.4 1727.7" stroke="#000" stroke-width="2.5" />
<path d="M1965.3 1729.0L1965.3 1736.0" stroke="#000" stroke-width="2.5" />
<path d="M1955.5 1729.0L1975.0 1729.0" stroke="#000" stroke-width="2.5" />
<path d="M1955.5 1736.0L1975.0 1736.0" stroke="#000" stroke-width="2.5" />
<path d="M1589.0 1560.3L1589.0 1862.7" stroke="#000" stroke-width="2.6" />
<path d="M1577.0 1861.4L1996.2 1861.4" stroke="#000" stroke-width="2.6" />
<path d="M1577.0 1861.4L1589.0 1861.4" stroke="#000" stroke-width="2.6" />
<text x="1573.0" y="1868.4" font-size="19.5" text-anchor="end" font-weight="bold" fill="#000" letter-spacing="0.3" >0</text>
<path d="M1577.0 1786.5L1589.0 1786.5" stroke="#000" stroke-width="2.6" />
<text x="1573.0" y="1793.5" font-size="19.5" text-anchor="end" font-weight="bold" fill="#000" letter-spacing="0.3" >500</text>
<path d="M1577.0 1711.5L1589.0 1711.5" stroke="#000" stroke-width="2.6" />
<text x="1573.0" y="1718.5" font-size="19.5" text-anchor="end" font-weight="bold" fill="#000" letter-spacing="0.3" >1000</text>
<path d="M1577.0 1636.6L1589.0 1636.6" stroke="#000" stroke-width="2.6" />
<text x="1573.0" y="1643.6" font-size="19.5" text-anchor="end" font-weight="bold" fill="#000" letter-spacing="0.3" >1500</text>
<path d="M1577.0 1561.6L1589.0 1561.6" stroke="#000" stroke-width="2.6" />
<text x="1573.0" y="1568.6" font-size="19.5" text-anchor="end" font-weight="bold" fill="#000" letter-spacing="0.3" >2000</text>
<path d="M1618.2 1861.4L1618.2 1874.9" stroke="#000" stroke-width="2.6" />
<path d="M1667.8 1861.4L1667.8 1874.9" stroke="#000" stroke-width="2.6" />
<path d="M1717.4 1861.4L1717.4 1874.9" stroke="#000" stroke-width="2.6" />
<path d="M1766.9 1861.4L1766.9 1874.9" stroke="#000" stroke-width="2.6" />
<path d="M1816.5 1861.4L1816.5 1874.9" stroke="#000" stroke-width="2.6" />
<path d="M1866.1 1861.4L1866.1 1874.9" stroke="#000" stroke-width="2.6" />
<path d="M1915.7 1861.4L1915.7 1874.9" stroke="#000" stroke-width="2.6" />
<path d="M1965.3 1861.4L1965.3 1874.9" stroke="#000" stroke-width="2.6" />
<text x="1617.8" y="1667.9" font-size="19.5" text-anchor="middle" font-weight="bold" fill="#000" letter-spacing="0.4" >1201</text>
<text x="1668.4" y="1735.4" font-size="19.5" text-anchor="middle" font-weight="bold" fill="#000" letter-spacing="0.4" >747</text>
<text x="1718.0" y="1668.9" font-size="19.5" text-anchor="middle" font-weight="bold" fill="#000" letter-spacing="0.4" >1154</text>
<text x="1767.0" y="1706.7" font-size="19.5" text-anchor="middle" font-weight="bold" fill="#000" letter-spacing="0.4" >917</text>
<text x="1817.5" y="1748.7" font-size="19.5" text-anchor="middle" font-weight="bold" fill="#000" letter-spacing="0.4" >667</text>
<text x="1865.4" y="1660.7" font-size="19.5" text-anchor="middle" font-weight="bold" fill="#000" letter-spacing="0.4" >1106</text>
<text x="1915.9" y="1712.3" font-size="19.5" text-anchor="middle" font-weight="bold" fill="#000" letter-spacing="0.4" >902</text>
<text x="1965.0" y="1715.6" font-size="19.5" text-anchor="middle" font-weight="bold" fill="#000" letter-spacing="0.4" >858</text>
<path d="M1665.6 1596.4L1766.9 1596.4" stroke="#000" stroke-width="2.5" />
<text x="1717.8" y="1586.0" font-size="19.5" text-anchor="middle" font-weight="bold" fill="#000" letter-spacing="0.4" ><tspan font-style="italic">p</tspan>=0.0003</text>
<path d="M1665.6 1635.8L1716.7 1635.8" stroke="#000" stroke-width="2.5" />
<text x="1695.1" y="1626.7" font-size="19.5" text-anchor="middle" font-weight="bold" fill="#000" letter-spacing="0.4" ><tspan font-style="italic">p</tspan>=0.2269</text>
<path d="M1819.0 1554.8L1965.0 1554.8" stroke="#000" stroke-width="2.5" />
<text x="1895.7" y="1544.4" font-size="19.5" text-anchor="middle" font-weight="bold" fill="#000" letter-spacing="0.4" ><tspan font-style="italic">p</tspan>=0.1368</text>
<path d="M1817.2 1596.4L1918.3 1596.4" stroke="#000" stroke-width="2.5" />
<text x="1867.2" y="1584.7" font-size="19.5" text-anchor="middle" font-weight="bold" fill="#000" letter-spacing="0.4" ><tspan font-style="italic">p</tspan>=0.0401</text>
<path d="M1817.2 1635.8L1868.2 1635.8" stroke="#000" stroke-width="2.5" />
<text x="1842.8" y="1626.7" font-size="19.5" text-anchor="middle" font-weight="bold" fill="#000" letter-spacing="0.4" ><tspan font-style="italic">p</tspan>=0.0001</text>
<text x="1626.2" y="1891.9" font-size="20" text-anchor="end" font-weight="bold" fill="#000" transform="rotate(-45 1626.2 1891.9)" letter-spacing="0.1" >WT(EV)</text>
<text x="1675.8" y="1891.9" font-size="20" text-anchor="end" font-weight="bold" fill="#000" transform="rotate(-45 1675.8 1891.9)" letter-spacing="0.1" >Δ<tspan font-style="italic">dspII</tspan>(EV)</text>
<text x="1725.4" y="1891.9" font-size="20" text-anchor="end" font-weight="bold" fill="#000" transform="rotate(-45 1725.4 1891.9)" letter-spacing="0.1" >Δ<tspan font-style="italic">dspII</tspan>(<tspan font-style="italic">dspII</tspan>)</text>
<text x="1774.9" y="1891.9" font-size="20" text-anchor="end" font-weight="bold" fill="#000" transform="rotate(-45 1774.9 1891.9)" letter-spacing="0.1" >Δ<tspan font-style="italic">dspII</tspan>(<tspan font-style="italic">dspII</tspan> <tspan font-size="13.6" dy="-8.4">E143A</tspan><tspan dy="8.4">)</tspan></text>
<text x="1824.5" y="1891.9" font-size="20" text-anchor="end" font-weight="bold" fill="#000" transform="rotate(-45 1824.5 1891.9)" letter-spacing="0.1" >Δ<tspan font-style="italic">dspI</tspan>(EV)</text>
<text x="1874.1" y="1891.9" font-size="20" text-anchor="end" font-weight="bold" fill="#000" transform="rotate(-45 1874.1 1891.9)" letter-spacing="0.1" >Δ<tspan font-style="italic">dspI</tspan>(<tspan font-style="italic">dspI</tspan>)</text>
<text x="1923.7" y="1891.9" font-size="20" text-anchor="end" font-weight="bold" fill="#000" transform="rotate(-45 1923.7 1891.9)" letter-spacing="0.1" >Δ<tspan font-style="italic">dspI</tspan>(<tspan font-style="italic">dspI</tspan> <tspan font-size="13.6" dy="-8.4">E126A</tspan><tspan dy="8.4">)</tspan></text>
<text x="1973.3" y="1891.9" font-size="20" text-anchor="end" font-weight="bold" fill="#000" transform="rotate(-45 1973.3 1891.9)" letter-spacing="0.1" >Δ<tspan font-style="italic">dspI</tspan>(<tspan font-style="italic">dspI</tspan> <tspan font-size="13.6" dy="-8.4">E146A</tspan><tspan dy="8.4">)</tspan></text>
<text x="1484.0" y="1713.2" font-size="22.9" text-anchor="middle" font-weight="bold" fill="#000" transform="rotate(-90 1484.0 1713.2)" letter-spacing="0.2" >β-gal activity (Miller Units)</text>
<text x="1513.5" y="1713.2" font-size="22.9" text-anchor="middle" font-weight="bold" fill="#000" transform="rotate(-90 1513.5 1713.2)" letter-spacing="0.2" >(P<tspan font-style="italic">exsCEBA-lacZ</tspan>)</text>
</svg>
</div>
</body></html>
